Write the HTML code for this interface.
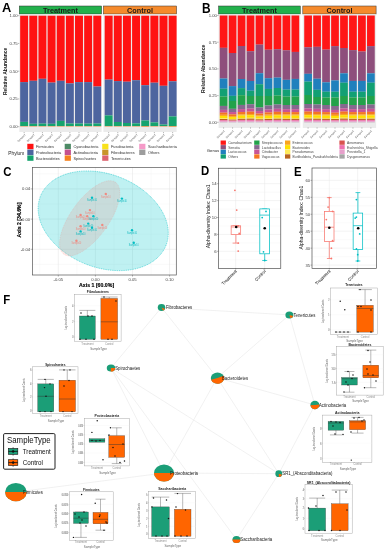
<!DOCTYPE html>
<html><head><meta charset="utf-8"><style>
html,body{margin:0;padding:0;background:#fff;width:387px;height:550px;overflow:hidden}
svg{display:block;font-family:"Liberation Sans",sans-serif;will-change:transform}
</style></head><body>
<svg width="387" height="550" viewBox="0 0 387 550"><text transform="translate(2.1 12.2) scale(0.1 0.09829)" font-size="129" fill="#000" text-anchor="start" font-weight="bold" >A</text>
<rect x="19.3" y="6" width="82.3" height="8" fill="#22B14C" stroke="#333" stroke-width="0.5"/>
<text transform="translate(60.45 12.6) scale(0.1 0.10030)" font-size="73" fill="#1a1a1a" text-anchor="middle" font-weight="bold" >Treatment</text>
<rect x="103.4" y="6" width="73.2" height="8" fill="#F58A2C" stroke="#333" stroke-width="0.5"/>
<text transform="translate(140 12.6) scale(0.1 0.10030)" font-size="73" fill="#1a1a1a" text-anchor="middle" font-weight="bold" >Control</text>
<rect x="19.3" y="14.3" width="82.3" height="117.7" fill="#EBEBEB" />
<rect x="103.4" y="14.3" width="73.2" height="117.7" fill="#EBEBEB" />
<rect x="20.17" y="15.7" width="7.95" height="66.4" fill="#FF1212" />
<rect x="20.17" y="82.1" width="7.95" height="39.8" fill="#4D659F" />
<rect x="20.17" y="121.9" width="7.95" height="4.2" fill="#15A36E" />
<rect x="20.17" y="126.1" width="7.95" height="0.6" fill="#F5A06A" />
<rect x="29.31" y="15.7" width="7.95" height="65.1" fill="#FF1212" />
<rect x="29.31" y="80.8" width="7.95" height="43" fill="#4D659F" />
<rect x="29.31" y="123.8" width="7.95" height="2.3" fill="#15A36E" />
<rect x="29.31" y="126.1" width="7.95" height="0.6" fill="#F5A06A" />
<rect x="38.45" y="15.7" width="7.95" height="63.1" fill="#FF1212" />
<rect x="38.45" y="78.8" width="7.95" height="44.8" fill="#4D659F" />
<rect x="38.45" y="123.6" width="7.95" height="2.5" fill="#15A36E" />
<rect x="38.45" y="126.1" width="7.95" height="0.6" fill="#F5A06A" />
<rect x="47.59" y="15.7" width="7.95" height="66.9" fill="#FF1212" />
<rect x="47.59" y="82.6" width="7.95" height="41.2" fill="#4D659F" />
<rect x="47.59" y="123.8" width="7.95" height="2.3" fill="#15A36E" />
<rect x="47.59" y="126.1" width="7.95" height="0.6" fill="#F5A06A" />
<rect x="56.73" y="15.7" width="7.95" height="65.1" fill="#FF1212" />
<rect x="56.73" y="80.8" width="7.95" height="40.1" fill="#4D659F" />
<rect x="56.73" y="120.9" width="7.95" height="5.2" fill="#15A36E" />
<rect x="56.73" y="126.1" width="7.95" height="0.6" fill="#F5A06A" />
<rect x="65.88" y="15.7" width="7.95" height="67.7" fill="#FF1212" />
<rect x="65.88" y="83.4" width="7.95" height="40.1" fill="#4D659F" />
<rect x="65.88" y="123.5" width="7.95" height="2.6" fill="#15A36E" />
<rect x="65.88" y="126.1" width="7.95" height="0.6" fill="#F5A06A" />
<rect x="75.02" y="15.7" width="7.95" height="66.4" fill="#FF1212" />
<rect x="75.02" y="82.1" width="7.95" height="41.4" fill="#4D659F" />
<rect x="75.02" y="123.5" width="7.95" height="2.6" fill="#15A36E" />
<rect x="75.02" y="126.1" width="7.95" height="0.6" fill="#F5A06A" />
<rect x="84.16" y="15.7" width="7.95" height="66.4" fill="#FF1212" />
<rect x="84.16" y="82.1" width="7.95" height="41.5" fill="#4D659F" />
<rect x="84.16" y="123.6" width="7.95" height="2.5" fill="#15A36E" />
<rect x="84.16" y="126.1" width="7.95" height="0.6" fill="#F5A06A" />
<rect x="93.3" y="15.7" width="7.95" height="70.8" fill="#FF1212" />
<rect x="93.3" y="86.5" width="7.95" height="37" fill="#4D659F" />
<rect x="93.3" y="123.5" width="7.95" height="2.6" fill="#15A36E" />
<rect x="93.3" y="126.1" width="7.95" height="0.6" fill="#F5A06A" />
<rect x="104.68" y="15.7" width="7.95" height="63.9" fill="#FF1212" />
<rect x="104.68" y="79.6" width="7.95" height="35.8" fill="#4D659F" />
<rect x="104.68" y="115.4" width="7.95" height="10.7" fill="#15A36E" />
<rect x="104.68" y="126.1" width="7.95" height="0.6" fill="#F5A06A" />
<rect x="113.82" y="15.7" width="7.95" height="65.4" fill="#FF1212" />
<rect x="113.82" y="81.1" width="7.95" height="40.9" fill="#4D659F" />
<rect x="113.82" y="122" width="7.95" height="4.1" fill="#15A36E" />
<rect x="113.82" y="126.1" width="7.95" height="0.6" fill="#F5A06A" />
<rect x="122.96" y="15.7" width="7.95" height="66" fill="#FF1212" />
<rect x="122.96" y="81.7" width="7.95" height="41.3" fill="#4D659F" />
<rect x="122.96" y="123" width="7.95" height="3.1" fill="#15A36E" />
<rect x="122.96" y="126.1" width="7.95" height="0.6" fill="#F5A06A" />
<rect x="132.09" y="15.7" width="7.95" height="64.5" fill="#FF1212" />
<rect x="132.09" y="80.2" width="7.95" height="43.2" fill="#4D659F" />
<rect x="132.09" y="123.4" width="7.95" height="2.7" fill="#15A36E" />
<rect x="132.09" y="126.1" width="7.95" height="0.6" fill="#F5A06A" />
<rect x="141.24" y="15.7" width="7.95" height="69.5" fill="#FF1212" />
<rect x="141.24" y="85.2" width="7.95" height="35.3" fill="#4D659F" />
<rect x="141.24" y="120.5" width="7.95" height="5.6" fill="#15A36E" />
<rect x="141.24" y="126.1" width="7.95" height="0.6" fill="#F58020" />
<rect x="150.38" y="15.7" width="7.95" height="67" fill="#FF1212" />
<rect x="150.38" y="82.7" width="7.95" height="39.7" fill="#4D659F" />
<rect x="150.38" y="122.4" width="7.95" height="3.7" fill="#15A36E" />
<rect x="150.38" y="126.1" width="7.95" height="0.6" fill="#F5A06A" />
<rect x="159.52" y="15.7" width="7.95" height="70.1" fill="#FF1212" />
<rect x="159.52" y="85.8" width="7.95" height="38.7" fill="#4D659F" />
<rect x="159.52" y="124.5" width="7.95" height="1.6" fill="#15A36E" />
<rect x="159.52" y="126.1" width="7.95" height="0.6" fill="#F5A06A" />
<rect x="168.66" y="15.7" width="7.95" height="65.6" fill="#FF1212" />
<rect x="168.66" y="81.3" width="7.95" height="35.1" fill="#4D659F" />
<rect x="168.66" y="116.4" width="7.95" height="9.7" fill="#15A36E" />
<rect x="168.66" y="126.1" width="7.95" height="0.6" fill="#F58020" />
<text transform="translate(17.6 17.1) scale(0.1 0.10030)" font-size="42" fill="#404040" text-anchor="end" >1.00</text>
<line x1="17.8" y1="15.7" x2="19.3" y2="15.7" stroke="#333" stroke-width="0.35" />
<text transform="translate(17.6 44.85) scale(0.1 0.10030)" font-size="42" fill="#404040" text-anchor="end" >0.75</text>
<line x1="17.8" y1="43.45" x2="19.3" y2="43.45" stroke="#333" stroke-width="0.35" />
<text transform="translate(17.6 72.6) scale(0.1 0.10030)" font-size="42" fill="#404040" text-anchor="end" >0.50</text>
<line x1="17.8" y1="71.2" x2="19.3" y2="71.2" stroke="#333" stroke-width="0.35" />
<text transform="translate(17.6 100.35) scale(0.1 0.10030)" font-size="42" fill="#404040" text-anchor="end" >0.25</text>
<line x1="17.8" y1="98.95" x2="19.3" y2="98.95" stroke="#333" stroke-width="0.35" />
<text transform="translate(17.6 128.1) scale(0.1 0.10030)" font-size="42" fill="#404040" text-anchor="end" >0.00</text>
<line x1="17.8" y1="126.7" x2="19.3" y2="126.7" stroke="#333" stroke-width="0.35" />
<text transform="translate(6.5 71.35) rotate(-90) scale(0.1 0.10030)" font-size="49" fill="#111" text-anchor="middle" font-weight="bold"  textLength="475" lengthAdjust="spacingAndGlyphs">Relative Abundance</text>
<line x1="24.15" y1="132" x2="24.15" y2="133.2" stroke="#333" stroke-width="0.35" />
<text transform="translate(25.75 135) rotate(-45) scale(0.1 0.10030)" font-size="26" fill="#555" text-anchor="end" >Sample1</text>
<line x1="33.29" y1="132" x2="33.29" y2="133.2" stroke="#333" stroke-width="0.35" />
<text transform="translate(34.89 135) rotate(-45) scale(0.1 0.10030)" font-size="26" fill="#555" text-anchor="end" >Sample1</text>
<line x1="42.43" y1="132" x2="42.43" y2="133.2" stroke="#333" stroke-width="0.35" />
<text transform="translate(44.03 135) rotate(-45) scale(0.1 0.10030)" font-size="26" fill="#555" text-anchor="end" >Sample1</text>
<line x1="51.57" y1="132" x2="51.57" y2="133.2" stroke="#333" stroke-width="0.35" />
<text transform="translate(53.17 135) rotate(-45) scale(0.1 0.10030)" font-size="26" fill="#555" text-anchor="end" >Sample1</text>
<line x1="60.71" y1="132" x2="60.71" y2="133.2" stroke="#333" stroke-width="0.35" />
<text transform="translate(62.31 135) rotate(-45) scale(0.1 0.10030)" font-size="26" fill="#555" text-anchor="end" >Sample1</text>
<line x1="69.85" y1="132" x2="69.85" y2="133.2" stroke="#333" stroke-width="0.35" />
<text transform="translate(71.45 135) rotate(-45) scale(0.1 0.10030)" font-size="26" fill="#555" text-anchor="end" >Sample1</text>
<line x1="78.99" y1="132" x2="78.99" y2="133.2" stroke="#333" stroke-width="0.35" />
<text transform="translate(80.59 135) rotate(-45) scale(0.1 0.10030)" font-size="26" fill="#555" text-anchor="end" >Sample1</text>
<line x1="88.13" y1="132" x2="88.13" y2="133.2" stroke="#333" stroke-width="0.35" />
<text transform="translate(89.73 135) rotate(-45) scale(0.1 0.10030)" font-size="26" fill="#555" text-anchor="end" >Sample1</text>
<line x1="97.27" y1="132" x2="97.27" y2="133.2" stroke="#333" stroke-width="0.35" />
<text transform="translate(98.87 135) rotate(-45) scale(0.1 0.10030)" font-size="26" fill="#555" text-anchor="end" >Sample1</text>
<line x1="108.65" y1="132" x2="108.65" y2="133.2" stroke="#333" stroke-width="0.35" />
<text transform="translate(110.25 135) rotate(-45) scale(0.1 0.10030)" font-size="26" fill="#555" text-anchor="end" >Sample1</text>
<line x1="117.79" y1="132" x2="117.79" y2="133.2" stroke="#333" stroke-width="0.35" />
<text transform="translate(119.39 135) rotate(-45) scale(0.1 0.10030)" font-size="26" fill="#555" text-anchor="end" >Sample1</text>
<line x1="126.93" y1="132" x2="126.93" y2="133.2" stroke="#333" stroke-width="0.35" />
<text transform="translate(128.53 135) rotate(-45) scale(0.1 0.10030)" font-size="26" fill="#555" text-anchor="end" >Sample1</text>
<line x1="136.07" y1="132" x2="136.07" y2="133.2" stroke="#333" stroke-width="0.35" />
<text transform="translate(137.67 135) rotate(-45) scale(0.1 0.10030)" font-size="26" fill="#555" text-anchor="end" >Sample1</text>
<line x1="145.21" y1="132" x2="145.21" y2="133.2" stroke="#333" stroke-width="0.35" />
<text transform="translate(146.81 135) rotate(-45) scale(0.1 0.10030)" font-size="26" fill="#555" text-anchor="end" >Sample1</text>
<line x1="154.35" y1="132" x2="154.35" y2="133.2" stroke="#333" stroke-width="0.35" />
<text transform="translate(155.95 135) rotate(-45) scale(0.1 0.10030)" font-size="26" fill="#555" text-anchor="end" >Sample1</text>
<line x1="163.49" y1="132" x2="163.49" y2="133.2" stroke="#333" stroke-width="0.35" />
<text transform="translate(165.09 135) rotate(-45) scale(0.1 0.10030)" font-size="26" fill="#555" text-anchor="end" >Sample1</text>
<line x1="172.63" y1="132" x2="172.63" y2="133.2" stroke="#333" stroke-width="0.35" />
<text transform="translate(174.23 135) rotate(-45) scale(0.1 0.10030)" font-size="26" fill="#555" text-anchor="end" >Sample1</text>
<text transform="translate(8.3 154.8) scale(0.1 0.10030)" font-size="48" fill="#222" text-anchor="start" >Phylum</text>
<rect x="27.3" y="143.8" width="6.2" height="5.4" fill="#FF1212" />
<text transform="translate(36 148.1) scale(0.1 0.10030)" font-size="39" fill="#333" text-anchor="start" >Firmicutes</text>
<rect x="27.3" y="149.6" width="6.2" height="5.4" fill="#4D659F" />
<text transform="translate(36 153.9) scale(0.1 0.10030)" font-size="39" fill="#333" text-anchor="start" >Proteobacteria</text>
<rect x="27.3" y="155.4" width="6.2" height="5.4" fill="#15A36E" />
<text transform="translate(36 159.7) scale(0.1 0.10030)" font-size="39" fill="#333" text-anchor="start" >Bacteroidetes</text>
<rect x="64.7" y="143.8" width="6.2" height="5.4" fill="#4E8B66" />
<text transform="translate(73.4 148.1) scale(0.1 0.10030)" font-size="39" fill="#333" text-anchor="start" >Cyanobacteria</text>
<rect x="64.7" y="149.6" width="6.2" height="5.4" fill="#C4508E" />
<text transform="translate(73.4 153.9) scale(0.1 0.10030)" font-size="39" fill="#333" text-anchor="start" >Actinobacteria</text>
<rect x="64.7" y="155.4" width="6.2" height="5.4" fill="#F5821F" />
<text transform="translate(73.4 159.7) scale(0.1 0.10030)" font-size="39" fill="#333" text-anchor="start" >Spirochaetes</text>
<rect x="102.2" y="143.8" width="6.2" height="5.4" fill="#F8E21B" />
<text transform="translate(110.9 148.1) scale(0.1 0.10030)" font-size="39" fill="#333" text-anchor="start" >Fusobacteria</text>
<rect x="102.2" y="149.6" width="6.2" height="5.4" fill="#C8952A" />
<text transform="translate(110.9 153.9) scale(0.1 0.10030)" font-size="39" fill="#333" text-anchor="start" >Fibrobacteres</text>
<rect x="102.2" y="155.4" width="6.2" height="5.4" fill="#DC6470" />
<text transform="translate(110.9 159.7) scale(0.1 0.10030)" font-size="39" fill="#333" text-anchor="start" >Tenericutes</text>
<rect x="139.2" y="143.8" width="6.2" height="5.4" fill="#F59AC8" />
<text transform="translate(147.9 148.1) scale(0.1 0.10030)" font-size="39" fill="#333" text-anchor="start" >Saccharibacteria</text>
<rect x="139.2" y="149.6" width="6.2" height="5.4" fill="#9D9D9D" />
<text transform="translate(147.9 153.9) scale(0.1 0.10030)" font-size="39" fill="#333" text-anchor="start" >Others</text>
<text transform="translate(202 12.7) scale(0.1 0.11735)" font-size="119" fill="#000" text-anchor="start" font-weight="bold" >B</text>
<rect x="218.6" y="6" width="81.7" height="8" fill="#22B14C" stroke="#333" stroke-width="0.5"/>
<text transform="translate(259.45 12.6) scale(0.1 0.10030)" font-size="73" fill="#1a1a1a" text-anchor="middle" font-weight="bold" >Treatment</text>
<rect x="302.8" y="6" width="73.3" height="8" fill="#F58A2C" stroke="#333" stroke-width="0.5"/>
<text transform="translate(339.45 12.6) scale(0.1 0.10030)" font-size="73" fill="#1a1a1a" text-anchor="middle" font-weight="bold" >Control</text>
<rect x="218.6" y="14.3" width="81.7" height="113.7" fill="#EBEBEB" />
<rect x="302.8" y="14.3" width="73.3" height="113.7" fill="#EBEBEB" />
<rect x="219.74" y="15.5" width="7.72" height="32.35" fill="#FF1616" />
<rect x="219.74" y="47.8" width="7.72" height="30.75" fill="#8E4F7C" />
<rect x="219.74" y="78.5" width="7.72" height="10.25" fill="#2080BD" />
<rect x="219.74" y="88.7" width="7.72" height="7.85" fill="#12A074" />
<rect x="219.74" y="96.5" width="7.72" height="9.45" fill="#22A24A" />
<rect x="219.74" y="105.9" width="7.72" height="3.99" fill="#86698F" />
<rect x="219.74" y="109.84" width="7.72" height="2.84" fill="#C85495" />
<rect x="219.74" y="112.62" width="7.72" height="2.18" fill="#F57522" />
<rect x="219.74" y="114.76" width="7.72" height="1.2" fill="#F9A51E" />
<rect x="219.74" y="115.9" width="7.72" height="2.35" fill="#FFE000" />
<rect x="219.74" y="118.2" width="7.72" height="0.87" fill="#FFEB5A" />
<rect x="219.74" y="119.02" width="7.72" height="1.03" fill="#B8641E" />
<rect x="219.74" y="120" width="7.72" height="0.38" fill="#D9534F" />
<rect x="219.74" y="120.33" width="7.72" height="1.03" fill="#EE70AE" />
<rect x="219.74" y="121.32" width="7.72" height="0.87" fill="#E6A0CB" />
<rect x="219.74" y="122.14" width="7.72" height="0.21" fill="#A5A5A5" />
<rect x="228.71" y="15.5" width="7.72" height="37.55" fill="#FF1616" />
<rect x="228.71" y="53" width="7.72" height="33.15" fill="#8E4F7C" />
<rect x="228.71" y="86.1" width="7.72" height="9.75" fill="#2080BD" />
<rect x="228.71" y="95.8" width="7.72" height="5.25" fill="#12A074" />
<rect x="228.71" y="101" width="7.72" height="7.85" fill="#22A24A" />
<rect x="228.71" y="108.8" width="7.72" height="3.29" fill="#86698F" />
<rect x="228.71" y="112.04" width="7.72" height="2.34" fill="#C85495" />
<rect x="228.71" y="114.33" width="7.72" height="1.8" fill="#F57522" />
<rect x="228.71" y="116.09" width="7.72" height="0.99" fill="#F9A51E" />
<rect x="228.71" y="117.03" width="7.72" height="1.94" fill="#FFE000" />
<rect x="228.71" y="118.92" width="7.72" height="0.72" fill="#FFEB5A" />
<rect x="228.71" y="119.6" width="7.72" height="0.86" fill="#B8641E" />
<rect x="228.71" y="120.41" width="7.72" height="0.32" fill="#D9534F" />
<rect x="228.71" y="120.68" width="7.72" height="0.86" fill="#EE70AE" />
<rect x="228.71" y="121.49" width="7.72" height="0.72" fill="#E6A0CB" />
<rect x="228.71" y="122.16" width="7.72" height="0.19" fill="#A5A5A5" />
<rect x="237.68" y="15.5" width="7.72" height="30.55" fill="#FF1616" />
<rect x="237.68" y="46" width="7.72" height="33.05" fill="#8E4F7C" />
<rect x="237.68" y="79" width="7.72" height="9.15" fill="#2080BD" />
<rect x="237.68" y="88.1" width="7.72" height="7.15" fill="#12A074" />
<rect x="237.68" y="95.2" width="7.72" height="9.75" fill="#22A24A" />
<rect x="237.68" y="104.9" width="7.72" height="4.23" fill="#86698F" />
<rect x="237.68" y="109.08" width="7.72" height="3.01" fill="#C85495" />
<rect x="237.68" y="112.03" width="7.72" height="2.31" fill="#F57522" />
<rect x="237.68" y="114.3" width="7.72" height="1.27" fill="#F9A51E" />
<rect x="237.68" y="115.51" width="7.72" height="2.49" fill="#FFE000" />
<rect x="237.68" y="117.95" width="7.72" height="0.92" fill="#FFEB5A" />
<rect x="237.68" y="118.82" width="7.72" height="1.09" fill="#B8641E" />
<rect x="237.68" y="119.86" width="7.72" height="0.4" fill="#D9534F" />
<rect x="237.68" y="120.21" width="7.72" height="1.09" fill="#EE70AE" />
<rect x="237.68" y="121.26" width="7.72" height="0.92" fill="#E6A0CB" />
<rect x="237.68" y="122.13" width="7.72" height="0.22" fill="#A5A5A5" />
<rect x="246.65" y="15.5" width="7.72" height="35.75" fill="#FF1616" />
<rect x="246.65" y="51.2" width="7.72" height="29.85" fill="#8E4F7C" />
<rect x="246.65" y="81" width="7.72" height="9.75" fill="#2080BD" />
<rect x="246.65" y="90.7" width="7.72" height="5.35" fill="#12A074" />
<rect x="246.65" y="96" width="7.72" height="8.25" fill="#22A24A" />
<rect x="246.65" y="104.2" width="7.72" height="4.39" fill="#86698F" />
<rect x="246.65" y="108.54" width="7.72" height="3.13" fill="#C85495" />
<rect x="246.65" y="111.62" width="7.72" height="2.4" fill="#F57522" />
<rect x="246.65" y="113.97" width="7.72" height="1.32" fill="#F9A51E" />
<rect x="246.65" y="115.24" width="7.72" height="2.58" fill="#FFE000" />
<rect x="246.65" y="117.77" width="7.72" height="0.95" fill="#FFEB5A" />
<rect x="246.65" y="118.68" width="7.72" height="1.14" fill="#B8641E" />
<rect x="246.65" y="119.77" width="7.72" height="0.41" fill="#D9534F" />
<rect x="246.65" y="120.13" width="7.72" height="1.14" fill="#EE70AE" />
<rect x="246.65" y="121.21" width="7.72" height="0.95" fill="#E6A0CB" />
<rect x="246.65" y="122.12" width="7.72" height="0.23" fill="#A5A5A5" />
<rect x="255.62" y="15.5" width="7.72" height="29.15" fill="#FF1616" />
<rect x="255.62" y="44.6" width="7.72" height="28.65" fill="#8E4F7C" />
<rect x="255.62" y="73.2" width="7.72" height="11.05" fill="#2080BD" />
<rect x="255.62" y="84.2" width="7.72" height="11.85" fill="#12A074" />
<rect x="255.62" y="96" width="7.72" height="11.55" fill="#22A24A" />
<rect x="255.62" y="107.5" width="7.72" height="3.6" fill="#86698F" />
<rect x="255.62" y="111.05" width="7.72" height="2.57" fill="#C85495" />
<rect x="255.62" y="113.57" width="7.72" height="1.97" fill="#F57522" />
<rect x="255.62" y="115.49" width="7.72" height="1.09" fill="#F9A51E" />
<rect x="255.62" y="116.53" width="7.72" height="2.12" fill="#FFE000" />
<rect x="255.62" y="118.6" width="7.72" height="0.79" fill="#FFEB5A" />
<rect x="255.62" y="119.34" width="7.72" height="0.94" fill="#B8641E" />
<rect x="255.62" y="120.23" width="7.72" height="0.35" fill="#D9534F" />
<rect x="255.62" y="120.52" width="7.72" height="0.94" fill="#EE70AE" />
<rect x="255.62" y="121.41" width="7.72" height="0.79" fill="#E6A0CB" />
<rect x="255.62" y="122.15" width="7.72" height="0.2" fill="#A5A5A5" />
<rect x="264.59" y="15.5" width="7.72" height="34.25" fill="#FF1616" />
<rect x="264.59" y="49.7" width="7.72" height="28.55" fill="#8E4F7C" />
<rect x="264.59" y="78.2" width="7.72" height="10.75" fill="#2080BD" />
<rect x="264.59" y="88.9" width="7.72" height="7.15" fill="#12A074" />
<rect x="264.59" y="96" width="7.72" height="9.55" fill="#22A24A" />
<rect x="264.59" y="105.5" width="7.72" height="4.08" fill="#86698F" />
<rect x="264.59" y="109.53" width="7.72" height="2.91" fill="#C85495" />
<rect x="264.59" y="112.39" width="7.72" height="2.23" fill="#F57522" />
<rect x="264.59" y="114.57" width="7.72" height="1.23" fill="#F9A51E" />
<rect x="264.59" y="115.75" width="7.72" height="2.4" fill="#FFE000" />
<rect x="264.59" y="118.1" width="7.72" height="0.89" fill="#FFEB5A" />
<rect x="264.59" y="118.94" width="7.72" height="1.06" fill="#B8641E" />
<rect x="264.59" y="119.95" width="7.72" height="0.39" fill="#D9534F" />
<rect x="264.59" y="120.28" width="7.72" height="1.06" fill="#EE70AE" />
<rect x="264.59" y="121.29" width="7.72" height="0.89" fill="#E6A0CB" />
<rect x="264.59" y="122.13" width="7.72" height="0.22" fill="#A5A5A5" />
<rect x="273.56" y="15.5" width="7.72" height="33.75" fill="#FF1616" />
<rect x="273.56" y="49.2" width="7.72" height="28.45" fill="#8E4F7C" />
<rect x="273.56" y="77.6" width="7.72" height="10.45" fill="#2080BD" />
<rect x="273.56" y="88" width="7.72" height="7.55" fill="#12A074" />
<rect x="273.56" y="95.5" width="7.72" height="9.05" fill="#22A24A" />
<rect x="273.56" y="104.5" width="7.72" height="4.32" fill="#86698F" />
<rect x="273.56" y="108.77" width="7.72" height="3.08" fill="#C85495" />
<rect x="273.56" y="111.8" width="7.72" height="2.36" fill="#F57522" />
<rect x="273.56" y="114.11" width="7.72" height="1.3" fill="#F9A51E" />
<rect x="273.56" y="115.36" width="7.72" height="2.54" fill="#FFE000" />
<rect x="273.56" y="117.85" width="7.72" height="0.94" fill="#FFEB5A" />
<rect x="273.56" y="118.74" width="7.72" height="1.12" fill="#B8641E" />
<rect x="273.56" y="119.81" width="7.72" height="0.41" fill="#D9534F" />
<rect x="273.56" y="120.16" width="7.72" height="1.12" fill="#EE70AE" />
<rect x="273.56" y="121.23" width="7.72" height="0.94" fill="#E6A0CB" />
<rect x="273.56" y="122.12" width="7.72" height="0.23" fill="#A5A5A5" />
<rect x="282.53" y="15.5" width="7.72" height="34.85" fill="#FF1616" />
<rect x="282.53" y="50.3" width="7.72" height="29.55" fill="#8E4F7C" />
<rect x="282.53" y="79.8" width="7.72" height="9.85" fill="#2080BD" />
<rect x="282.53" y="89.6" width="7.72" height="6.95" fill="#12A074" />
<rect x="282.53" y="96.5" width="7.72" height="8.55" fill="#22A24A" />
<rect x="282.53" y="105" width="7.72" height="4.2" fill="#86698F" />
<rect x="282.53" y="109.15" width="7.72" height="2.99" fill="#C85495" />
<rect x="282.53" y="112.09" width="7.72" height="2.3" fill="#F57522" />
<rect x="282.53" y="114.34" width="7.72" height="1.26" fill="#F9A51E" />
<rect x="282.53" y="115.55" width="7.72" height="2.47" fill="#FFE000" />
<rect x="282.53" y="117.97" width="7.72" height="0.91" fill="#FFEB5A" />
<rect x="282.53" y="118.84" width="7.72" height="1.09" fill="#B8641E" />
<rect x="282.53" y="119.88" width="7.72" height="0.4" fill="#D9534F" />
<rect x="282.53" y="120.22" width="7.72" height="1.09" fill="#EE70AE" />
<rect x="282.53" y="121.26" width="7.72" height="0.91" fill="#E6A0CB" />
<rect x="282.53" y="122.13" width="7.72" height="0.22" fill="#A5A5A5" />
<rect x="291.5" y="15.5" width="7.72" height="36.45" fill="#FF1616" />
<rect x="291.5" y="51.9" width="7.72" height="27.05" fill="#8E4F7C" />
<rect x="291.5" y="78.9" width="7.72" height="10.75" fill="#2080BD" />
<rect x="291.5" y="89.6" width="7.72" height="6.95" fill="#12A074" />
<rect x="291.5" y="96.5" width="7.72" height="8.55" fill="#22A24A" />
<rect x="291.5" y="105" width="7.72" height="4.2" fill="#86698F" />
<rect x="291.5" y="109.15" width="7.72" height="2.99" fill="#C85495" />
<rect x="291.5" y="112.09" width="7.72" height="2.3" fill="#F57522" />
<rect x="291.5" y="114.34" width="7.72" height="1.26" fill="#F9A51E" />
<rect x="291.5" y="115.55" width="7.72" height="2.47" fill="#FFE000" />
<rect x="291.5" y="117.97" width="7.72" height="0.91" fill="#FFEB5A" />
<rect x="291.5" y="118.84" width="7.72" height="1.09" fill="#B8641E" />
<rect x="291.5" y="119.88" width="7.72" height="0.4" fill="#D9534F" />
<rect x="291.5" y="120.22" width="7.72" height="1.09" fill="#EE70AE" />
<rect x="291.5" y="121.26" width="7.72" height="0.91" fill="#E6A0CB" />
<rect x="291.5" y="122.13" width="7.72" height="0.22" fill="#A5A5A5" />
<rect x="304.24" y="15.5" width="7.72" height="31.85" fill="#FF1616" />
<rect x="304.24" y="47.3" width="7.72" height="26.55" fill="#8E4F7C" />
<rect x="304.24" y="73.8" width="7.72" height="7.85" fill="#2080BD" />
<rect x="304.24" y="81.6" width="7.72" height="13.45" fill="#12A074" />
<rect x="304.24" y="95" width="7.72" height="9.05" fill="#22A24A" />
<rect x="304.24" y="104" width="7.72" height="4.44" fill="#86698F" />
<rect x="304.24" y="108.39" width="7.72" height="3.16" fill="#C85495" />
<rect x="304.24" y="111.5" width="7.72" height="2.43" fill="#F57522" />
<rect x="304.24" y="113.88" width="7.72" height="1.33" fill="#F9A51E" />
<rect x="304.24" y="115.16" width="7.72" height="2.61" fill="#FFE000" />
<rect x="304.24" y="117.73" width="7.72" height="0.97" fill="#FFEB5A" />
<rect x="304.24" y="118.64" width="7.72" height="1.15" fill="#B8641E" />
<rect x="304.24" y="119.74" width="7.72" height="0.42" fill="#D9534F" />
<rect x="304.24" y="120.1" width="7.72" height="1.15" fill="#EE70AE" />
<rect x="304.24" y="121.2" width="7.72" height="0.97" fill="#E6A0CB" />
<rect x="304.24" y="122.12" width="7.72" height="0.23" fill="#A5A5A5" />
<rect x="313.21" y="15.5" width="7.72" height="31.35" fill="#FF1616" />
<rect x="313.21" y="46.8" width="7.72" height="31.95" fill="#8E4F7C" />
<rect x="313.21" y="78.7" width="7.72" height="11.15" fill="#2080BD" />
<rect x="313.21" y="89.8" width="7.72" height="7.25" fill="#12A074" />
<rect x="313.21" y="97" width="7.72" height="7.55" fill="#22A24A" />
<rect x="313.21" y="104.5" width="7.72" height="4.32" fill="#86698F" />
<rect x="313.21" y="108.77" width="7.72" height="3.08" fill="#C85495" />
<rect x="313.21" y="111.8" width="7.72" height="2.36" fill="#F57522" />
<rect x="313.21" y="114.11" width="7.72" height="1.3" fill="#F9A51E" />
<rect x="313.21" y="115.36" width="7.72" height="2.54" fill="#FFE000" />
<rect x="313.21" y="117.85" width="7.72" height="0.94" fill="#FFEB5A" />
<rect x="313.21" y="118.74" width="7.72" height="1.12" fill="#B8641E" />
<rect x="313.21" y="119.81" width="7.72" height="0.41" fill="#D9534F" />
<rect x="313.21" y="120.16" width="7.72" height="1.12" fill="#EE70AE" />
<rect x="313.21" y="121.23" width="7.72" height="0.94" fill="#E6A0CB" />
<rect x="313.21" y="122.12" width="7.72" height="0.23" fill="#A5A5A5" />
<rect x="322.18" y="15.5" width="7.72" height="34.15" fill="#FF1616" />
<rect x="322.18" y="49.6" width="7.72" height="32.75" fill="#8E4F7C" />
<rect x="322.18" y="82.3" width="7.72" height="9.45" fill="#2080BD" />
<rect x="322.18" y="91.7" width="7.72" height="5.85" fill="#12A074" />
<rect x="322.18" y="97.5" width="7.72" height="7.55" fill="#22A24A" />
<rect x="322.18" y="105" width="7.72" height="4.2" fill="#86698F" />
<rect x="322.18" y="109.15" width="7.72" height="2.99" fill="#C85495" />
<rect x="322.18" y="112.09" width="7.72" height="2.3" fill="#F57522" />
<rect x="322.18" y="114.34" width="7.72" height="1.26" fill="#F9A51E" />
<rect x="322.18" y="115.55" width="7.72" height="2.47" fill="#FFE000" />
<rect x="322.18" y="117.97" width="7.72" height="0.91" fill="#FFEB5A" />
<rect x="322.18" y="118.84" width="7.72" height="1.09" fill="#B8641E" />
<rect x="322.18" y="119.88" width="7.72" height="0.4" fill="#D9534F" />
<rect x="322.18" y="120.22" width="7.72" height="1.09" fill="#EE70AE" />
<rect x="322.18" y="121.26" width="7.72" height="0.91" fill="#E6A0CB" />
<rect x="322.18" y="122.13" width="7.72" height="0.22" fill="#A5A5A5" />
<rect x="331.15" y="15.5" width="7.72" height="30.65" fill="#FF1616" />
<rect x="331.15" y="46.1" width="7.72" height="34.35" fill="#8E4F7C" />
<rect x="331.15" y="80.4" width="7.72" height="11.35" fill="#2080BD" />
<rect x="331.15" y="91.7" width="7.72" height="5.85" fill="#12A074" />
<rect x="331.15" y="97.5" width="7.72" height="8.55" fill="#22A24A" />
<rect x="331.15" y="106" width="7.72" height="3.96" fill="#86698F" />
<rect x="331.15" y="109.91" width="7.72" height="2.82" fill="#C85495" />
<rect x="331.15" y="112.68" width="7.72" height="2.17" fill="#F57522" />
<rect x="331.15" y="114.8" width="7.72" height="1.19" fill="#F9A51E" />
<rect x="331.15" y="115.94" width="7.72" height="2.33" fill="#FFE000" />
<rect x="331.15" y="118.23" width="7.72" height="0.86" fill="#FFEB5A" />
<rect x="331.15" y="119.04" width="7.72" height="1.03" fill="#B8641E" />
<rect x="331.15" y="120.02" width="7.72" height="0.38" fill="#D9534F" />
<rect x="331.15" y="120.34" width="7.72" height="1.03" fill="#EE70AE" />
<rect x="331.15" y="121.32" width="7.72" height="0.86" fill="#E6A0CB" />
<rect x="331.15" y="122.14" width="7.72" height="0.21" fill="#A5A5A5" />
<rect x="340.12" y="15.5" width="7.72" height="32.55" fill="#FF1616" />
<rect x="340.12" y="48" width="7.72" height="25.35" fill="#8E4F7C" />
<rect x="340.12" y="73.3" width="7.72" height="9.45" fill="#2080BD" />
<rect x="340.12" y="82.7" width="7.72" height="13.35" fill="#12A074" />
<rect x="340.12" y="96" width="7.72" height="8.05" fill="#22A24A" />
<rect x="340.12" y="104" width="7.72" height="4.44" fill="#86698F" />
<rect x="340.12" y="108.39" width="7.72" height="3.16" fill="#C85495" />
<rect x="340.12" y="111.5" width="7.72" height="2.43" fill="#F57522" />
<rect x="340.12" y="113.88" width="7.72" height="1.33" fill="#F9A51E" />
<rect x="340.12" y="115.16" width="7.72" height="2.61" fill="#FFE000" />
<rect x="340.12" y="117.73" width="7.72" height="0.97" fill="#FFEB5A" />
<rect x="340.12" y="118.64" width="7.72" height="1.15" fill="#B8641E" />
<rect x="340.12" y="119.74" width="7.72" height="0.42" fill="#D9534F" />
<rect x="340.12" y="120.1" width="7.72" height="1.15" fill="#EE70AE" />
<rect x="340.12" y="121.2" width="7.72" height="0.97" fill="#E6A0CB" />
<rect x="340.12" y="122.12" width="7.72" height="0.23" fill="#A5A5A5" />
<rect x="349.09" y="15.5" width="7.72" height="34.65" fill="#FF1616" />
<rect x="349.09" y="50.1" width="7.72" height="30.85" fill="#8E4F7C" />
<rect x="349.09" y="80.9" width="7.72" height="10.85" fill="#2080BD" />
<rect x="349.09" y="91.7" width="7.72" height="5.85" fill="#12A074" />
<rect x="349.09" y="97.5" width="7.72" height="7.55" fill="#22A24A" />
<rect x="349.09" y="105" width="7.72" height="4.2" fill="#86698F" />
<rect x="349.09" y="109.15" width="7.72" height="2.99" fill="#C85495" />
<rect x="349.09" y="112.09" width="7.72" height="2.3" fill="#F57522" />
<rect x="349.09" y="114.34" width="7.72" height="1.26" fill="#F9A51E" />
<rect x="349.09" y="115.55" width="7.72" height="2.47" fill="#FFE000" />
<rect x="349.09" y="117.97" width="7.72" height="0.91" fill="#FFEB5A" />
<rect x="349.09" y="118.84" width="7.72" height="1.09" fill="#B8641E" />
<rect x="349.09" y="119.88" width="7.72" height="0.4" fill="#D9534F" />
<rect x="349.09" y="120.22" width="7.72" height="1.09" fill="#EE70AE" />
<rect x="349.09" y="121.26" width="7.72" height="0.91" fill="#E6A0CB" />
<rect x="349.09" y="122.13" width="7.72" height="0.22" fill="#A5A5A5" />
<rect x="358.06" y="15.5" width="7.72" height="36.05" fill="#FF1616" />
<rect x="358.06" y="51.5" width="7.72" height="29.45" fill="#8E4F7C" />
<rect x="358.06" y="80.9" width="7.72" height="10.85" fill="#2080BD" />
<rect x="358.06" y="91.7" width="7.72" height="5.85" fill="#12A074" />
<rect x="358.06" y="97.5" width="7.72" height="7.55" fill="#22A24A" />
<rect x="358.06" y="105" width="7.72" height="4.2" fill="#86698F" />
<rect x="358.06" y="109.15" width="7.72" height="2.99" fill="#C85495" />
<rect x="358.06" y="112.09" width="7.72" height="2.3" fill="#F57522" />
<rect x="358.06" y="114.34" width="7.72" height="1.26" fill="#F9A51E" />
<rect x="358.06" y="115.55" width="7.72" height="2.47" fill="#FFE000" />
<rect x="358.06" y="117.97" width="7.72" height="0.91" fill="#FFEB5A" />
<rect x="358.06" y="118.84" width="7.72" height="1.09" fill="#B8641E" />
<rect x="358.06" y="119.88" width="7.72" height="0.4" fill="#D9534F" />
<rect x="358.06" y="120.22" width="7.72" height="1.09" fill="#EE70AE" />
<rect x="358.06" y="121.26" width="7.72" height="0.91" fill="#E6A0CB" />
<rect x="358.06" y="122.13" width="7.72" height="0.22" fill="#A5A5A5" />
<rect x="367.03" y="15.5" width="7.72" height="30.65" fill="#FF1616" />
<rect x="367.03" y="46.1" width="7.72" height="27.25" fill="#8E4F7C" />
<rect x="367.03" y="73.3" width="7.72" height="9.45" fill="#2080BD" />
<rect x="367.03" y="82.7" width="7.72" height="13.35" fill="#12A074" />
<rect x="367.03" y="96" width="7.72" height="8.55" fill="#22A24A" />
<rect x="367.03" y="104.5" width="7.72" height="4.32" fill="#86698F" />
<rect x="367.03" y="108.77" width="7.72" height="3.08" fill="#C85495" />
<rect x="367.03" y="111.8" width="7.72" height="2.36" fill="#F57522" />
<rect x="367.03" y="114.11" width="7.72" height="1.3" fill="#F9A51E" />
<rect x="367.03" y="115.36" width="7.72" height="2.54" fill="#FFE000" />
<rect x="367.03" y="117.85" width="7.72" height="0.94" fill="#FFEB5A" />
<rect x="367.03" y="118.74" width="7.72" height="1.12" fill="#B8641E" />
<rect x="367.03" y="119.81" width="7.72" height="0.41" fill="#D9534F" />
<rect x="367.03" y="120.16" width="7.72" height="1.12" fill="#EE70AE" />
<rect x="367.03" y="121.23" width="7.72" height="0.94" fill="#E6A0CB" />
<rect x="367.03" y="122.12" width="7.72" height="0.23" fill="#A5A5A5" />
<text transform="translate(216.9 16.9) scale(0.1 0.10030)" font-size="42" fill="#404040" text-anchor="end" >1.00</text>
<line x1="217.1" y1="15.5" x2="218.6" y2="15.5" stroke="#333" stroke-width="0.35" />
<text transform="translate(216.9 43.6) scale(0.1 0.10030)" font-size="42" fill="#404040" text-anchor="end" >0.75</text>
<line x1="217.1" y1="42.2" x2="218.6" y2="42.2" stroke="#333" stroke-width="0.35" />
<text transform="translate(216.9 70.3) scale(0.1 0.10030)" font-size="42" fill="#404040" text-anchor="end" >0.50</text>
<line x1="217.1" y1="68.9" x2="218.6" y2="68.9" stroke="#333" stroke-width="0.35" />
<text transform="translate(216.9 97) scale(0.1 0.10030)" font-size="42" fill="#404040" text-anchor="end" >0.25</text>
<line x1="217.1" y1="95.6" x2="218.6" y2="95.6" stroke="#333" stroke-width="0.35" />
<text transform="translate(216.9 123.7) scale(0.1 0.10030)" font-size="42" fill="#404040" text-anchor="end" >0.00</text>
<line x1="217.1" y1="122.3" x2="218.6" y2="122.3" stroke="#333" stroke-width="0.35" />
<text transform="translate(205 68.85) rotate(-90) scale(0.1 0.10030)" font-size="49" fill="#111" text-anchor="middle" font-weight="bold"  textLength="483" lengthAdjust="spacingAndGlyphs">Relative Abundance</text>
<line x1="223.6" y1="127.4" x2="223.6" y2="128.6" stroke="#333" stroke-width="0.35" />
<text transform="translate(225 131.2) rotate(-45) scale(0.1 0.10030)" font-size="26" fill="#555" text-anchor="end" >Sample1</text>
<line x1="232.57" y1="127.4" x2="232.57" y2="128.6" stroke="#333" stroke-width="0.35" />
<text transform="translate(233.97 131.2) rotate(-45) scale(0.1 0.10030)" font-size="26" fill="#555" text-anchor="end" >Sample1</text>
<line x1="241.54" y1="127.4" x2="241.54" y2="128.6" stroke="#333" stroke-width="0.35" />
<text transform="translate(242.94 131.2) rotate(-45) scale(0.1 0.10030)" font-size="26" fill="#555" text-anchor="end" >Sample1</text>
<line x1="250.51" y1="127.4" x2="250.51" y2="128.6" stroke="#333" stroke-width="0.35" />
<text transform="translate(251.91 131.2) rotate(-45) scale(0.1 0.10030)" font-size="26" fill="#555" text-anchor="end" >Sample1</text>
<line x1="259.48" y1="127.4" x2="259.48" y2="128.6" stroke="#333" stroke-width="0.35" />
<text transform="translate(260.88 131.2) rotate(-45) scale(0.1 0.10030)" font-size="26" fill="#555" text-anchor="end" >Sample1</text>
<line x1="268.45" y1="127.4" x2="268.45" y2="128.6" stroke="#333" stroke-width="0.35" />
<text transform="translate(269.85 131.2) rotate(-45) scale(0.1 0.10030)" font-size="26" fill="#555" text-anchor="end" >Sample1</text>
<line x1="277.42" y1="127.4" x2="277.42" y2="128.6" stroke="#333" stroke-width="0.35" />
<text transform="translate(278.82 131.2) rotate(-45) scale(0.1 0.10030)" font-size="26" fill="#555" text-anchor="end" >Sample1</text>
<line x1="286.39" y1="127.4" x2="286.39" y2="128.6" stroke="#333" stroke-width="0.35" />
<text transform="translate(287.79 131.2) rotate(-45) scale(0.1 0.10030)" font-size="26" fill="#555" text-anchor="end" >Sample1</text>
<line x1="295.36" y1="127.4" x2="295.36" y2="128.6" stroke="#333" stroke-width="0.35" />
<text transform="translate(296.76 131.2) rotate(-45) scale(0.1 0.10030)" font-size="26" fill="#555" text-anchor="end" >Sample1</text>
<line x1="308.1" y1="127.4" x2="308.1" y2="128.6" stroke="#333" stroke-width="0.35" />
<text transform="translate(309.5 131.2) rotate(-45) scale(0.1 0.10030)" font-size="26" fill="#555" text-anchor="end" >Sample1</text>
<line x1="317.07" y1="127.4" x2="317.07" y2="128.6" stroke="#333" stroke-width="0.35" />
<text transform="translate(318.47 131.2) rotate(-45) scale(0.1 0.10030)" font-size="26" fill="#555" text-anchor="end" >Sample1</text>
<line x1="326.04" y1="127.4" x2="326.04" y2="128.6" stroke="#333" stroke-width="0.35" />
<text transform="translate(327.44 131.2) rotate(-45) scale(0.1 0.10030)" font-size="26" fill="#555" text-anchor="end" >Sample1</text>
<line x1="335.01" y1="127.4" x2="335.01" y2="128.6" stroke="#333" stroke-width="0.35" />
<text transform="translate(336.41 131.2) rotate(-45) scale(0.1 0.10030)" font-size="26" fill="#555" text-anchor="end" >Sample1</text>
<line x1="343.98" y1="127.4" x2="343.98" y2="128.6" stroke="#333" stroke-width="0.35" />
<text transform="translate(345.38 131.2) rotate(-45) scale(0.1 0.10030)" font-size="26" fill="#555" text-anchor="end" >Sample1</text>
<line x1="352.95" y1="127.4" x2="352.95" y2="128.6" stroke="#333" stroke-width="0.35" />
<text transform="translate(354.35 131.2) rotate(-45) scale(0.1 0.10030)" font-size="26" fill="#555" text-anchor="end" >Sample1</text>
<line x1="361.92" y1="127.4" x2="361.92" y2="128.6" stroke="#333" stroke-width="0.35" />
<text transform="translate(363.32 131.2) rotate(-45) scale(0.1 0.10030)" font-size="26" fill="#555" text-anchor="end" >Sample1</text>
<line x1="370.89" y1="127.4" x2="370.89" y2="128.6" stroke="#333" stroke-width="0.35" />
<text transform="translate(372.29 131.2) rotate(-45) scale(0.1 0.10030)" font-size="26" fill="#555" text-anchor="end" >Sample1</text>
<text transform="translate(206.8 151.7) scale(0.1 0.10030)" font-size="42" fill="#222" text-anchor="start" >Genus</text>
<rect x="220.6" y="140.5" width="5.3" height="4.3" fill="#FF1616" />
<text transform="translate(228.2 144) scale(0.1 0.10030)" font-size="33" fill="#444" text-anchor="start" >Carnobacterium</text>
<rect x="220.6" y="145.1" width="5.3" height="4.3" fill="#8E4F7C" />
<text transform="translate(228.2 148.6) scale(0.1 0.10030)" font-size="33" fill="#444" text-anchor="start" >Serratia</text>
<rect x="220.6" y="149.7" width="5.3" height="4.3" fill="#2080BD" />
<text transform="translate(228.2 153.2) scale(0.1 0.10030)" font-size="33" fill="#444" text-anchor="start" >Lactococcus</text>
<rect x="220.6" y="154.3" width="5.3" height="4.3" fill="#12A074" />
<text transform="translate(228.2 157.8) scale(0.1 0.10030)" font-size="33" fill="#444" text-anchor="start" >Others</text>
<rect x="254.2" y="140.5" width="5.3" height="4.3" fill="#22A24A" />
<text transform="translate(261.8 144) scale(0.1 0.10030)" font-size="33" fill="#444" text-anchor="start" >Streptococcus</text>
<rect x="254.2" y="145.1" width="5.3" height="4.3" fill="#86698F" />
<text transform="translate(261.8 148.6) scale(0.1 0.10030)" font-size="33" fill="#444" text-anchor="start" >Lactobacillus</text>
<rect x="254.2" y="149.7" width="5.3" height="4.3" fill="#C85495" />
<text transform="translate(261.8 153.2) scale(0.1 0.10030)" font-size="33" fill="#444" text-anchor="start" >Citrobacter</text>
<rect x="254.2" y="154.3" width="5.3" height="4.3" fill="#F57522" />
<text transform="translate(261.8 157.8) scale(0.1 0.10030)" font-size="33" fill="#444" text-anchor="start" >Vagococcus</text>
<rect x="285" y="140.5" width="5.3" height="4.3" fill="#F9A51E" />
<text transform="translate(292.6 144) scale(0.1 0.10030)" font-size="33" fill="#444" text-anchor="start" >Enterococcus</text>
<rect x="285" y="145.1" width="5.3" height="4.3" fill="#FFE000" />
<text transform="translate(292.6 148.6) scale(0.1 0.10030)" font-size="33" fill="#444" text-anchor="start" >Bacteroides</text>
<rect x="285" y="149.7" width="5.3" height="4.3" fill="#FFEB5A" />
<text transform="translate(292.6 153.2) scale(0.1 0.10030)" font-size="33" fill="#444" text-anchor="start" >Pseudomonas</text>
<rect x="285" y="154.3" width="5.3" height="4.3" fill="#B8641E" />
<text transform="translate(292.6 157.8) scale(0.1 0.10030)" font-size="33" fill="#444" text-anchor="start" >Burkholderia_Paraburkholderia</text>
<rect x="339.4" y="140.5" width="5.3" height="4.3" fill="#D9534F" />
<text transform="translate(347 144) scale(0.1 0.10030)" font-size="33" fill="#444" text-anchor="start" >Aeromonas</text>
<rect x="339.4" y="145.1" width="5.3" height="4.3" fill="#EE70AE" />
<text transform="translate(347 148.6) scale(0.1 0.10030)" font-size="33" fill="#444" text-anchor="start" >Escherichia_Shigella</text>
<rect x="339.4" y="149.7" width="5.3" height="4.3" fill="#E6A0CB" />
<text transform="translate(347 153.2) scale(0.1 0.10030)" font-size="33" fill="#444" text-anchor="start" >Prevotella_1</text>
<rect x="339.4" y="154.3" width="5.3" height="4.3" fill="#A5A5A5" />
<text transform="translate(347 157.8) scale(0.1 0.10030)" font-size="33" fill="#444" text-anchor="start" >Dysgonomonas</text>
<text transform="translate(3.3 175.6) scale(0.1 0.11534)" font-size="114" fill="#000" text-anchor="start" font-weight="bold" >C</text>
<rect x="32.5" y="167.4" width="143.8" height="107.6" fill="#FFFFFF" />
<line x1="39.75" y1="167.4" x2="39.75" y2="275" stroke="#F2F2F2" stroke-width="0.4" />
<line x1="76.85" y1="167.4" x2="76.85" y2="275" stroke="#F2F2F2" stroke-width="0.4" />
<line x1="113.95" y1="167.4" x2="113.95" y2="275" stroke="#F2F2F2" stroke-width="0.4" />
<line x1="151.05" y1="167.4" x2="151.05" y2="275" stroke="#F2F2F2" stroke-width="0.4" />
<line x1="32.5" y1="173.8" x2="176.3" y2="173.8" stroke="#F2F2F2" stroke-width="0.4" />
<line x1="32.5" y1="204" x2="176.3" y2="204" stroke="#F2F2F2" stroke-width="0.4" />
<line x1="32.5" y1="234.2" x2="176.3" y2="234.2" stroke="#F2F2F2" stroke-width="0.4" />
<line x1="32.5" y1="264.4" x2="176.3" y2="264.4" stroke="#F2F2F2" stroke-width="0.4" />
<line x1="58.3" y1="167.4" x2="58.3" y2="275" stroke="#E3E3E3" stroke-width="0.5" />
<line x1="95.4" y1="167.4" x2="95.4" y2="275" stroke="#E3E3E3" stroke-width="0.5" />
<line x1="132.5" y1="167.4" x2="132.5" y2="275" stroke="#E3E3E3" stroke-width="0.5" />
<line x1="169.6" y1="167.4" x2="169.6" y2="275" stroke="#E3E3E3" stroke-width="0.5" />
<line x1="32.5" y1="188.9" x2="176.3" y2="188.9" stroke="#E3E3E3" stroke-width="0.5" />
<line x1="32.5" y1="219.1" x2="176.3" y2="219.1" stroke="#E3E3E3" stroke-width="0.5" />
<line x1="32.5" y1="249.3" x2="176.3" y2="249.3" stroke="#E3E3E3" stroke-width="0.5" />
<ellipse cx="103.2" cy="220.8" rx="67.4" ry="46.6" transform="rotate(21.2 103.2 220.8)" fill="#00C8CC" fill-opacity="0.25" stroke="#00BFC4" stroke-width="0.5" stroke-dasharray="1 0.8"/>
<ellipse cx="89.7" cy="218.3" rx="44.3" ry="18.9" transform="rotate(-54.2 89.7 218.3)" fill="#F8766D" fill-opacity="0.17" stroke="#F8766D" stroke-opacity="0.5" stroke-width="0.4" stroke-dasharray="1 0.8"/>
<rect x="32.5" y="167.4" width="143.8" height="107.6" fill="none" stroke="#555" stroke-width="0.7"/>
<circle cx="105.8" cy="194" r="1.2" fill="#F08A80" />
<text transform="translate(105.8 197.5) scale(0.1 0.12036)" font-size="24" fill="#EC8A82" text-anchor="middle"  textLength="96" lengthAdjust="spacingAndGlyphs">Sample10</text>
<circle cx="89.9" cy="210.1" r="1.2" fill="#F08A80" />
<text transform="translate(89.9 213.6) scale(0.1 0.12036)" font-size="24" fill="#EC8A82" text-anchor="middle"  textLength="96" lengthAdjust="spacingAndGlyphs">Sample10</text>
<circle cx="80.6" cy="214.9" r="1.2" fill="#F08A80" />
<text transform="translate(80.6 218.4) scale(0.1 0.12036)" font-size="24" fill="#EC8A82" text-anchor="middle"  textLength="96" lengthAdjust="spacingAndGlyphs">Sample10</text>
<circle cx="87.2" cy="216.3" r="1.2" fill="#F08A80" />
<text transform="translate(87.2 219.8) scale(0.1 0.12036)" font-size="24" fill="#EC8A82" text-anchor="middle"  textLength="96" lengthAdjust="spacingAndGlyphs">Sample10</text>
<circle cx="102.3" cy="225" r="1.2" fill="#F08A80" />
<text transform="translate(102.3 228.5) scale(0.1 0.12036)" font-size="24" fill="#EC8A82" text-anchor="middle"  textLength="96" lengthAdjust="spacingAndGlyphs">Sample10</text>
<circle cx="80.6" cy="226.2" r="1.2" fill="#F08A80" />
<text transform="translate(80.6 229.7) scale(0.1 0.12036)" font-size="24" fill="#EC8A82" text-anchor="middle"  textLength="96" lengthAdjust="spacingAndGlyphs">Sample10</text>
<circle cx="76.4" cy="240.7" r="1.2" fill="#F08A80" />
<text transform="translate(76.4 244.2) scale(0.1 0.12036)" font-size="24" fill="#EC8A82" text-anchor="middle"  textLength="96" lengthAdjust="spacingAndGlyphs">Sample10</text>
<circle cx="92" cy="197.7" r="1.2" fill="#00BFC4" />
<text transform="translate(92 201.2) scale(0.1 0.12036)" font-size="24" fill="#10B8BE" text-anchor="middle"  textLength="98" lengthAdjust="spacingAndGlyphs">Sample10</text>
<circle cx="121.9" cy="198.6" r="1.2" fill="#00BFC4" />
<text transform="translate(121.9 202.1) scale(0.1 0.12036)" font-size="24" fill="#10B8BE" text-anchor="middle"  textLength="98" lengthAdjust="spacingAndGlyphs">Sample10</text>
<circle cx="93.4" cy="216.3" r="1.2" fill="#00BFC4" />
<text transform="translate(93.4 219.8) scale(0.1 0.12036)" font-size="24" fill="#10B8BE" text-anchor="middle"  textLength="98" lengthAdjust="spacingAndGlyphs">Sample10</text>
<circle cx="88.2" cy="223.6" r="1.2" fill="#00BFC4" />
<text transform="translate(88.2 227.1) scale(0.1 0.12036)" font-size="24" fill="#10B8BE" text-anchor="middle"  textLength="98" lengthAdjust="spacingAndGlyphs">Sample10</text>
<circle cx="92" cy="227.7" r="1.2" fill="#00BFC4" />
<text transform="translate(92 231.2) scale(0.1 0.12036)" font-size="24" fill="#10B8BE" text-anchor="middle"  textLength="98" lengthAdjust="spacingAndGlyphs">Sample10</text>
<circle cx="80.6" cy="231.4" r="1.2" fill="#00BFC4" />
<text transform="translate(80.6 234.9) scale(0.1 0.12036)" font-size="24" fill="#10B8BE" text-anchor="middle"  textLength="98" lengthAdjust="spacingAndGlyphs">Sample10</text>
<circle cx="132" cy="230.3" r="1.2" fill="#00BFC4" />
<text transform="translate(132 233.8) scale(0.1 0.12036)" font-size="24" fill="#10B8BE" text-anchor="middle"  textLength="98" lengthAdjust="spacingAndGlyphs">Sample10</text>
<circle cx="133.7" cy="242.8" r="1.2" fill="#00BFC4" />
<text transform="translate(133.7 246.3) scale(0.1 0.12036)" font-size="24" fill="#10B8BE" text-anchor="middle"  textLength="98" lengthAdjust="spacingAndGlyphs">Sample10</text>
<text transform="translate(30.2 190.3) scale(0.1 0.10030)" font-size="42" fill="#404040" text-anchor="end" >0.04</text>
<line x1="30.6" y1="188.9" x2="32.5" y2="188.9" stroke="#333" stroke-width="0.35" />
<text transform="translate(30.2 220.5) scale(0.1 0.10030)" font-size="42" fill="#404040" text-anchor="end" >0.00</text>
<line x1="30.6" y1="219.1" x2="32.5" y2="219.1" stroke="#333" stroke-width="0.35" />
<text transform="translate(30.2 250.7) scale(0.1 0.10030)" font-size="42" fill="#404040" text-anchor="end" >-0.04</text>
<line x1="30.6" y1="249.3" x2="32.5" y2="249.3" stroke="#333" stroke-width="0.35" />
<text transform="translate(58.3 280.8) scale(0.1 0.10030)" font-size="42" fill="#404040" text-anchor="middle" >-0.05</text>
<line x1="58.3" y1="275" x2="58.3" y2="276.6" stroke="#333" stroke-width="0.35" />
<text transform="translate(95.4 280.8) scale(0.1 0.10030)" font-size="42" fill="#404040" text-anchor="middle" >0.00</text>
<line x1="95.4" y1="275" x2="95.4" y2="276.6" stroke="#333" stroke-width="0.35" />
<text transform="translate(132.5 280.8) scale(0.1 0.10030)" font-size="42" fill="#404040" text-anchor="middle" >0.05</text>
<line x1="132.5" y1="275" x2="132.5" y2="276.6" stroke="#333" stroke-width="0.35" />
<text transform="translate(169.6 280.8) scale(0.1 0.10030)" font-size="42" fill="#404040" text-anchor="middle" >0.10</text>
<line x1="169.6" y1="275" x2="169.6" y2="276.6" stroke="#333" stroke-width="0.35" />
<text transform="translate(96.6 287.1) scale(0.1 0.10030)" font-size="52" fill="#000" text-anchor="middle" font-weight="bold"  stroke="#000" stroke-width="1.5"  textLength="350" lengthAdjust="spacingAndGlyphs">Axis 1 [60.0%]</text>
<text transform="translate(21 220) rotate(-90) scale(0.1 0.10030)" font-size="52" fill="#000" text-anchor="middle" font-weight="bold"  stroke="#000" stroke-width="1.5" >Axis 2 [34.6%]</text>
<text transform="translate(200.9 175.4) scale(0.1 0.11534)" font-size="114" fill="#000" text-anchor="start" font-weight="bold" >D</text>
<text transform="translate(294 175.5) scale(0.1 0.11534)" font-size="114" fill="#000" text-anchor="start" font-weight="bold" >E</text>
<rect x="218.3" y="168.2" width="62.5" height="100.2" fill="#FFFFFF" />
<line x1="218.3" y1="259.75" x2="280.8" y2="259.75" stroke="#F3F3F3" stroke-width="0.4" />
<line x1="218.3" y1="242.85" x2="280.8" y2="242.85" stroke="#F3F3F3" stroke-width="0.4" />
<line x1="218.3" y1="225.95" x2="280.8" y2="225.95" stroke="#F3F3F3" stroke-width="0.4" />
<line x1="218.3" y1="209.05" x2="280.8" y2="209.05" stroke="#F3F3F3" stroke-width="0.4" />
<line x1="218.3" y1="192.15" x2="280.8" y2="192.15" stroke="#F3F3F3" stroke-width="0.4" />
<line x1="218.3" y1="175.25" x2="280.8" y2="175.25" stroke="#F3F3F3" stroke-width="0.4" />
<line x1="218.3" y1="251.3" x2="280.8" y2="251.3" stroke="#E6E6E6" stroke-width="0.5" />
<line x1="218.3" y1="234.4" x2="280.8" y2="234.4" stroke="#E6E6E6" stroke-width="0.5" />
<line x1="218.3" y1="217.5" x2="280.8" y2="217.5" stroke="#E6E6E6" stroke-width="0.5" />
<line x1="218.3" y1="200.6" x2="280.8" y2="200.6" stroke="#E6E6E6" stroke-width="0.5" />
<line x1="218.3" y1="183.7" x2="280.8" y2="183.7" stroke="#E6E6E6" stroke-width="0.5" />
<line x1="235.7" y1="168.2" x2="235.7" y2="268.4" stroke="#E6E6E6" stroke-width="0.5" />
<line x1="264.7" y1="168.2" x2="264.7" y2="268.4" stroke="#E6E6E6" stroke-width="0.5" />
<rect x="218.3" y="168.2" width="62.5" height="100.2" fill="none" stroke="#333" stroke-width="0.6"/>
<text transform="translate(216.5 252.7) scale(0.1 0.10030)" font-size="42" fill="#404040" text-anchor="end" >6</text>
<line x1="216.8" y1="251.3" x2="218.3" y2="251.3" stroke="#333" stroke-width="0.35" />
<text transform="translate(216.5 235.8) scale(0.1 0.10030)" font-size="42" fill="#404040" text-anchor="end" >8</text>
<line x1="216.8" y1="234.4" x2="218.3" y2="234.4" stroke="#333" stroke-width="0.35" />
<text transform="translate(216.5 218.9) scale(0.1 0.10030)" font-size="42" fill="#404040" text-anchor="end" >10</text>
<line x1="216.8" y1="217.5" x2="218.3" y2="217.5" stroke="#333" stroke-width="0.35" />
<text transform="translate(216.5 202) scale(0.1 0.10030)" font-size="42" fill="#404040" text-anchor="end" >12</text>
<line x1="216.8" y1="200.6" x2="218.3" y2="200.6" stroke="#333" stroke-width="0.35" />
<text transform="translate(216.5 185.1) scale(0.1 0.10030)" font-size="42" fill="#404040" text-anchor="end" >14</text>
<line x1="216.8" y1="183.7" x2="218.3" y2="183.7" stroke="#333" stroke-width="0.35" />
<text transform="translate(210 216.4) rotate(-90) scale(0.1 0.10030)" font-size="50" fill="#111" text-anchor="middle" >Alpha-diversity Index: Chao1</text>
<line x1="235.9" y1="225.8" x2="235.9" y2="225.8" stroke="#F8766D" stroke-width="0.75" />
<line x1="235.9" y1="234.6" x2="235.9" y2="243.1" stroke="#F8766D" stroke-width="0.75" />
<line x1="232.6" y1="225.8" x2="239.2" y2="225.8" stroke="#F8766D" stroke-width="0.75" />
<line x1="232.6" y1="243.1" x2="239.2" y2="243.1" stroke="#F8766D" stroke-width="0.75" />
<rect x="231.15" y="225.8" width="9.5" height="8.8" fill="#FFFFFF" stroke="#F8766D" stroke-width="0.75"/>
<line x1="231.15" y1="227" x2="240.65" y2="227" stroke="#F8766D" stroke-width="0.75" />
<circle cx="234.9" cy="190.3" r="0.9" fill="#F8766D" />
<circle cx="236.7" cy="210.1" r="0.9" fill="#F8766D" />
<circle cx="238.2" cy="225.8" r="0.9" fill="#F8766D" />
<circle cx="239.2" cy="233.4" r="0.9" fill="#F8766D" />
<circle cx="238.2" cy="243.1" r="0.9" fill="#F8766D" />
<circle cx="238.2" cy="251.1" r="0.9" fill="#F8766D" />
<circle cx="236.2" cy="227" r="1.3" fill="#000" />
<line x1="264.7" y1="208.9" x2="264.7" y2="208.9" stroke="#00BFC4" stroke-width="0.75" />
<line x1="264.7" y1="253.8" x2="264.7" y2="260.5" stroke="#00BFC4" stroke-width="0.75" />
<line x1="262.2" y1="208.9" x2="267.2" y2="208.9" stroke="#00BFC4" stroke-width="0.75" />
<line x1="262.2" y1="260.5" x2="267.2" y2="260.5" stroke="#00BFC4" stroke-width="0.75" />
<rect x="259.8" y="208.9" width="9.8" height="44.9" fill="#FFFFFF" stroke="#00BFC4" stroke-width="0.75"/>
<line x1="259.8" y1="215.1" x2="269.6" y2="215.1" stroke="#00BFC4" stroke-width="0.75" />
<circle cx="266" cy="211.4" r="0.9" fill="#00BFC4" />
<circle cx="262.2" cy="217.6" r="0.9" fill="#00BFC4" />
<circle cx="263.5" cy="251.8" r="0.9" fill="#00BFC4" />
<circle cx="264.7" cy="260.5" r="0.9" fill="#00BFC4" />
<circle cx="264.7" cy="228.2" r="1.3" fill="#000" />
<text transform="translate(237.2 271.6) rotate(-45) scale(0.1 0.10030)" font-size="43" fill="#404040" text-anchor="end" stroke="#404040" stroke-width="0.9" >Treatment</text>
<text transform="translate(266.2 271.6) rotate(-45) scale(0.1 0.10030)" font-size="43" fill="#404040" text-anchor="end" stroke="#404040" stroke-width="0.9" >Control</text>
<line x1="235.7" y1="268.4" x2="235.7" y2="269.8" stroke="#333" stroke-width="0.35" />
<line x1="264.7" y1="268.4" x2="264.7" y2="269.8" stroke="#333" stroke-width="0.35" />
<rect x="312" y="168" width="64.5" height="100.3" fill="#FFFFFF" />
<line x1="312" y1="256.62" x2="376.5" y2="256.62" stroke="#F3F3F3" stroke-width="0.4" />
<line x1="312" y1="239.67" x2="376.5" y2="239.67" stroke="#F3F3F3" stroke-width="0.4" />
<line x1="312" y1="222.72" x2="376.5" y2="222.72" stroke="#F3F3F3" stroke-width="0.4" />
<line x1="312" y1="205.77" x2="376.5" y2="205.77" stroke="#F3F3F3" stroke-width="0.4" />
<line x1="312" y1="188.82" x2="376.5" y2="188.82" stroke="#F3F3F3" stroke-width="0.4" />
<line x1="312" y1="265.1" x2="376.5" y2="265.1" stroke="#E6E6E6" stroke-width="0.5" />
<line x1="312" y1="248.15" x2="376.5" y2="248.15" stroke="#E6E6E6" stroke-width="0.5" />
<line x1="312" y1="231.2" x2="376.5" y2="231.2" stroke="#E6E6E6" stroke-width="0.5" />
<line x1="312" y1="214.25" x2="376.5" y2="214.25" stroke="#E6E6E6" stroke-width="0.5" />
<line x1="312" y1="197.3" x2="376.5" y2="197.3" stroke="#E6E6E6" stroke-width="0.5" />
<line x1="312" y1="180.35" x2="376.5" y2="180.35" stroke="#E6E6E6" stroke-width="0.5" />
<line x1="329.3" y1="168" x2="329.3" y2="268.3" stroke="#E6E6E6" stroke-width="0.5" />
<line x1="357.7" y1="168" x2="357.7" y2="268.3" stroke="#E6E6E6" stroke-width="0.5" />
<rect x="312" y="168" width="64.5" height="100.3" fill="none" stroke="#333" stroke-width="0.6"/>
<text transform="translate(310.2 266.5) scale(0.1 0.10030)" font-size="42" fill="#404040" text-anchor="end" >35</text>
<line x1="310.5" y1="265.1" x2="312" y2="265.1" stroke="#333" stroke-width="0.35" />
<text transform="translate(310.2 249.55) scale(0.1 0.10030)" font-size="42" fill="#404040" text-anchor="end" >40</text>
<line x1="310.5" y1="248.15" x2="312" y2="248.15" stroke="#333" stroke-width="0.35" />
<text transform="translate(310.2 232.6) scale(0.1 0.10030)" font-size="42" fill="#404040" text-anchor="end" >45</text>
<line x1="310.5" y1="231.2" x2="312" y2="231.2" stroke="#333" stroke-width="0.35" />
<text transform="translate(310.2 215.65) scale(0.1 0.10030)" font-size="42" fill="#404040" text-anchor="end" >50</text>
<line x1="310.5" y1="214.25" x2="312" y2="214.25" stroke="#333" stroke-width="0.35" />
<text transform="translate(310.2 198.7) scale(0.1 0.10030)" font-size="42" fill="#404040" text-anchor="end" >55</text>
<line x1="310.5" y1="197.3" x2="312" y2="197.3" stroke="#333" stroke-width="0.35" />
<text transform="translate(310.2 181.75) scale(0.1 0.10030)" font-size="42" fill="#404040" text-anchor="end" >60</text>
<line x1="310.5" y1="180.35" x2="312" y2="180.35" stroke="#333" stroke-width="0.35" />
<text transform="translate(303.2 217.6) rotate(-90) scale(0.1 0.10030)" font-size="50" fill="#111" text-anchor="middle" >Alpha-diversity Index: Chao1</text>
<line x1="329.3" y1="211.4" x2="329.3" y2="197.6" stroke="#F8766D" stroke-width="0.75" />
<line x1="329.3" y1="241.5" x2="329.3" y2="258.5" stroke="#F8766D" stroke-width="0.75" />
<line x1="326.9" y1="197.6" x2="331.7" y2="197.6" stroke="#F8766D" stroke-width="0.75" />
<line x1="326.9" y1="258.5" x2="331.7" y2="258.5" stroke="#F8766D" stroke-width="0.75" />
<rect x="324.6" y="211.4" width="9.4" height="30.1" fill="#FFFFFF" stroke="#F8766D" stroke-width="0.75"/>
<line x1="324.6" y1="227.2" x2="334" y2="227.2" stroke="#F8766D" stroke-width="0.75" />
<circle cx="328.1" cy="207.1" r="0.9" fill="#F8766D" />
<circle cx="326.3" cy="219.6" r="0.9" fill="#F8766D" />
<circle cx="332.6" cy="211.4" r="0.9" fill="#F8766D" />
<circle cx="332.6" cy="240.7" r="0.9" fill="#F8766D" />
<circle cx="331.4" cy="248.2" r="0.9" fill="#F8766D" />
<circle cx="331.4" cy="258.5" r="0.9" fill="#F8766D" />
<circle cx="329.3" cy="197.6" r="0.9" fill="#F8766D" />
<circle cx="329.3" cy="227.7" r="1.3" fill="#000" />
<line x1="357.9" y1="213.1" x2="357.9" y2="192.6" stroke="#00BFC4" stroke-width="0.75" />
<line x1="357.9" y1="249.5" x2="357.9" y2="261" stroke="#00BFC4" stroke-width="0.75" />
<line x1="355.5" y1="192.6" x2="360.3" y2="192.6" stroke="#00BFC4" stroke-width="0.75" />
<line x1="355.5" y1="261" x2="360.3" y2="261" stroke="#00BFC4" stroke-width="0.75" />
<rect x="353.15" y="213.1" width="9.5" height="36.4" fill="#FFFFFF" stroke="#00BFC4" stroke-width="0.75"/>
<line x1="353.15" y1="225.7" x2="362.65" y2="225.7" stroke="#00BFC4" stroke-width="0.75" />
<circle cx="356.4" cy="199.6" r="0.9" fill="#00BFC4" />
<circle cx="355.2" cy="218.1" r="0.9" fill="#00BFC4" />
<circle cx="356.4" cy="217.1" r="0.9" fill="#00BFC4" />
<circle cx="359.7" cy="233.9" r="0.9" fill="#00BFC4" />
<circle cx="356.4" cy="249" r="0.9" fill="#00BFC4" />
<circle cx="357.7" cy="254.7" r="0.9" fill="#00BFC4" />
<circle cx="357.7" cy="261" r="0.9" fill="#00BFC4" />
<circle cx="358.2" cy="228.2" r="1.3" fill="#000" />
<text transform="translate(330.8 271.6) rotate(-45) scale(0.1 0.10030)" font-size="43" fill="#404040" text-anchor="end" stroke="#404040" stroke-width="0.9" >Treatment</text>
<text transform="translate(359.2 271.6) rotate(-45) scale(0.1 0.10030)" font-size="43" fill="#404040" text-anchor="end" stroke="#404040" stroke-width="0.9" >Control</text>
<line x1="329.3" y1="268.3" x2="329.3" y2="269.7" stroke="#333" stroke-width="0.35" />
<line x1="357.7" y1="268.3" x2="357.7" y2="269.7" stroke="#333" stroke-width="0.35" />
<text transform="translate(3.3 303.5) scale(0.1 0.11534)" font-size="114" fill="#000" text-anchor="start" font-weight="bold" >F</text>
<line x1="161.5" y1="307.5" x2="289.4" y2="314.9" stroke="#E2E2E2" stroke-width="0.5" />
<line x1="161.5" y1="307.5" x2="111" y2="368" stroke="#E2E2E2" stroke-width="0.5" />
<line x1="161.5" y1="307.5" x2="217.2" y2="377.8" stroke="#E2E2E2" stroke-width="0.5" />
<line x1="289.4" y1="314.9" x2="217.2" y2="377.8" stroke="#E2E2E2" stroke-width="0.5" />
<line x1="289.4" y1="314.9" x2="314.9" y2="405" stroke="#E2E2E2" stroke-width="0.5" />
<line x1="217.2" y1="377.8" x2="314.9" y2="405" stroke="#E2E2E2" stroke-width="0.5" />
<line x1="217.2" y1="377.8" x2="278.8" y2="473.7" stroke="#E2E2E2" stroke-width="0.5" />
<line x1="217.2" y1="377.8" x2="164" y2="473" stroke="#E2E2E2" stroke-width="0.5" />
<line x1="111" y1="368" x2="278.8" y2="473.7" stroke="#E2E2E2" stroke-width="0.5" />
<line x1="111" y1="368" x2="236.5" y2="539.5" stroke="#E2E2E2" stroke-width="0.5" />
<line x1="111" y1="368" x2="164" y2="473" stroke="#E2E2E2" stroke-width="0.5" />
<line x1="164" y1="473" x2="15.9" y2="492.1" stroke="#E2E2E2" stroke-width="0.5" />
<line x1="164" y1="473" x2="278.8" y2="473.7" stroke="#E2E2E2" stroke-width="0.5" />
<line x1="278.8" y1="473.7" x2="314.9" y2="405" stroke="#E2E2E2" stroke-width="0.5" />
<line x1="278.8" y1="473.7" x2="236.5" y2="539.5" stroke="#E2E2E2" stroke-width="0.5" />
<rect x="74.6" y="294.3" width="46.5" height="46.9" fill="#FFFFFF" stroke="#A0A0A0" stroke-width="0.45"/>
<line x1="74.6" y1="305.7" x2="121.1" y2="305.7" stroke="#F0F0F0" stroke-width="0.3" />
<line x1="74.6" y1="321.6" x2="121.1" y2="321.6" stroke="#F0F0F0" stroke-width="0.3" />
<line x1="74.6" y1="337" x2="121.1" y2="337" stroke="#F0F0F0" stroke-width="0.3" />
<line x1="87.35" y1="316" x2="87.35" y2="310.4" stroke="#333" stroke-width="0.35" />
<line x1="79.35" y1="310.4" x2="95.35" y2="310.4" stroke="#333" stroke-width="0.35" />
<rect x="79.4" y="316" width="15.9" height="23.3" fill="#1B9E77" stroke="#333" stroke-width="0.3"/>
<line x1="109.25" y1="298.4" x2="109.25" y2="297" stroke="#333" stroke-width="0.35" />
<line x1="100.9" y1="297" x2="117.6" y2="297" stroke="#333" stroke-width="0.35" />
<rect x="100.9" y="298.4" width="16.7" height="40.9" fill="#FF6500" stroke="#333" stroke-width="0.3"/>
<line x1="100.9" y1="321.8" x2="117.6" y2="321.8" stroke="#333" stroke-width="0.45" />
<circle cx="81" cy="313" r="0.72" fill="#111" />
<circle cx="88" cy="316" r="0.72" fill="#111" />
<circle cx="92" cy="316" r="0.72" fill="#111" />
<circle cx="80" cy="339.2" r="0.72" fill="#111" />
<circle cx="86" cy="339.2" r="0.72" fill="#111" />
<circle cx="94" cy="339.2" r="0.72" fill="#111" />
<circle cx="104" cy="297" r="0.72" fill="#111" />
<circle cx="116" cy="301" r="0.72" fill="#111" />
<circle cx="108" cy="339.2" r="0.72" fill="#111" />
<circle cx="112" cy="339.2" r="0.72" fill="#111" />
<text transform="translate(97.85 292.9) scale(0.1 0.10231)" font-size="30" fill="#222" text-anchor="middle" font-weight="bold"  textLength="222" lengthAdjust="spacingAndGlyphs">Fibrobacteres</text>
<line x1="73.8" y1="305.7" x2="74.6" y2="305.7" stroke="#555" stroke-width="0.25" />
<text transform="translate(73.4 307) scale(0.1 0.13540)" font-size="20" fill="#999" text-anchor="end"  stroke="#999" stroke-width="1.2" >4</text>
<line x1="73.8" y1="321.6" x2="74.6" y2="321.6" stroke="#555" stroke-width="0.25" />
<text transform="translate(73.4 322.9) scale(0.1 0.13540)" font-size="20" fill="#999" text-anchor="end"  stroke="#999" stroke-width="1.2" >2</text>
<line x1="73.8" y1="337" x2="74.6" y2="337" stroke="#555" stroke-width="0.25" />
<text transform="translate(73.4 338.3) scale(0.1 0.13540)" font-size="20" fill="#999" text-anchor="end"  stroke="#999" stroke-width="1.2" >0</text>
<text transform="translate(87.35 344.5) scale(0.1 0.10531)" font-size="26" fill="#8a8a8a" text-anchor="middle"  textLength="122" lengthAdjust="spacingAndGlyphs">Treatment</text>
<text transform="translate(109.25 344.5) scale(0.1 0.10531)" font-size="26" fill="#8a8a8a" text-anchor="middle"  textLength="84" lengthAdjust="spacingAndGlyphs">Control</text>
<text transform="translate(98.55 349.6) scale(0.1 0.10531)" font-size="28" fill="#666" text-anchor="middle"  textLength="165" lengthAdjust="spacingAndGlyphs">SampleType</text>
<text transform="translate(67.3 317.75) rotate(-90) scale(0.1 0.11033)" font-size="26" fill="#8a8a8a" text-anchor="middle" font-weight="bold"  textLength="235" lengthAdjust="spacingAndGlyphs">Log-transformed Counts</text>
<rect x="32.6" y="366.8" width="45.4" height="46.7" fill="#FFFFFF" stroke="#A0A0A0" stroke-width="0.45"/>
<line x1="32.6" y1="369.9" x2="78" y2="369.9" stroke="#F0F0F0" stroke-width="0.3" />
<line x1="32.6" y1="383.5" x2="78" y2="383.5" stroke="#F0F0F0" stroke-width="0.3" />
<line x1="32.6" y1="397" x2="78" y2="397" stroke="#F0F0F0" stroke-width="0.3" />
<line x1="32.6" y1="410.4" x2="78" y2="410.4" stroke="#F0F0F0" stroke-width="0.3" />
<line x1="45.75" y1="383.9" x2="45.75" y2="379.4" stroke="#333" stroke-width="0.35" />
<line x1="37.7" y1="379.4" x2="53.8" y2="379.4" stroke="#333" stroke-width="0.35" />
<rect x="37.7" y="383.9" width="16.1" height="27.9" fill="#1B9E77" stroke="#333" stroke-width="0.3"/>
<line x1="37.7" y1="396.3" x2="53.8" y2="396.3" stroke="#333" stroke-width="0.45" />
<line x1="67.25" y1="380.2" x2="67.25" y2="369.9" stroke="#333" stroke-width="0.35" />
<line x1="59" y1="369.9" x2="75.5" y2="369.9" stroke="#333" stroke-width="0.35" />
<rect x="59" y="380.2" width="16.5" height="31.6" fill="#FF6500" stroke="#333" stroke-width="0.3"/>
<line x1="59" y1="399" x2="75.5" y2="399" stroke="#333" stroke-width="0.45" />
<circle cx="45" cy="379.4" r="0.72" fill="#111" />
<circle cx="50" cy="383.9" r="0.72" fill="#111" />
<circle cx="44.5" cy="387.6" r="0.72" fill="#111" />
<circle cx="46" cy="396.3" r="0.72" fill="#111" />
<circle cx="40" cy="411.6" r="0.72" fill="#111" />
<circle cx="45" cy="411.6" r="0.72" fill="#111" />
<circle cx="51" cy="411.6" r="0.72" fill="#111" />
<circle cx="64" cy="369.9" r="0.72" fill="#111" />
<circle cx="70" cy="369.9" r="0.72" fill="#111" />
<circle cx="64" cy="386" r="0.72" fill="#111" />
<circle cx="69" cy="380.5" r="0.72" fill="#111" />
<circle cx="63" cy="411.6" r="0.72" fill="#111" />
<circle cx="72" cy="411.6" r="0.72" fill="#111" />
<text transform="translate(55.3 365.9) scale(0.1 0.10231)" font-size="30" fill="#222" text-anchor="middle" font-weight="bold"  textLength="203" lengthAdjust="spacingAndGlyphs">Spirochaetes</text>
<line x1="31.8" y1="369.9" x2="32.6" y2="369.9" stroke="#555" stroke-width="0.25" />
<text transform="translate(31.4 371.2) scale(0.1 0.13540)" font-size="20" fill="#999" text-anchor="end"  stroke="#999" stroke-width="1.2" >6</text>
<line x1="31.8" y1="383.5" x2="32.6" y2="383.5" stroke="#555" stroke-width="0.25" />
<text transform="translate(31.4 384.8) scale(0.1 0.13540)" font-size="20" fill="#999" text-anchor="end"  stroke="#999" stroke-width="1.2" >4</text>
<line x1="31.8" y1="397" x2="32.6" y2="397" stroke="#555" stroke-width="0.25" />
<text transform="translate(31.4 398.3) scale(0.1 0.13540)" font-size="20" fill="#999" text-anchor="end"  stroke="#999" stroke-width="1.2" >2</text>
<line x1="31.8" y1="410.4" x2="32.6" y2="410.4" stroke="#555" stroke-width="0.25" />
<text transform="translate(31.4 411.7) scale(0.1 0.13540)" font-size="20" fill="#999" text-anchor="end"  stroke="#999" stroke-width="1.2" >0</text>
<text transform="translate(45.75 417.2) scale(0.1 0.10531)" font-size="26" fill="#8a8a8a" text-anchor="middle"  textLength="122" lengthAdjust="spacingAndGlyphs">Treatment</text>
<text transform="translate(67.25 417.2) scale(0.1 0.10531)" font-size="26" fill="#8a8a8a" text-anchor="middle"  textLength="84" lengthAdjust="spacingAndGlyphs">Control</text>
<text transform="translate(56 421.8) scale(0.1 0.10531)" font-size="28" fill="#666" text-anchor="middle"  textLength="165" lengthAdjust="spacingAndGlyphs">SampleType</text>
<text transform="translate(25.2 390.15) rotate(-90) scale(0.1 0.11033)" font-size="26" fill="#8a8a8a" text-anchor="middle" font-weight="bold"  textLength="235" lengthAdjust="spacingAndGlyphs">Log-transformed Counts</text>
<rect x="84.4" y="418.3" width="44.9" height="47.6" fill="#FFFFFF" stroke="#A0A0A0" stroke-width="0.45"/>
<line x1="84.4" y1="425.5" x2="129.3" y2="425.5" stroke="#F0F0F0" stroke-width="0.3" />
<line x1="84.4" y1="434.8" x2="129.3" y2="434.8" stroke="#F0F0F0" stroke-width="0.3" />
<line x1="84.4" y1="444.1" x2="129.3" y2="444.1" stroke="#F0F0F0" stroke-width="0.3" />
<line x1="84.4" y1="453.1" x2="129.3" y2="453.1" stroke="#F0F0F0" stroke-width="0.3" />
<line x1="84.4" y1="462.4" x2="129.3" y2="462.4" stroke="#F0F0F0" stroke-width="0.3" />
<rect x="89.1" y="438.7" width="15.8" height="3.5" fill="#1B9E77" stroke="#333" stroke-width="0.3"/>
<line x1="89.1" y1="440.5" x2="104.9" y2="440.5" stroke="#333" stroke-width="0.45" />
<line x1="116.75" y1="435.7" x2="116.75" y2="427.8" stroke="#333" stroke-width="0.35" />
<line x1="111.75" y1="427.8" x2="121.75" y2="427.8" stroke="#333" stroke-width="0.35" />
<line x1="116.75" y1="457.3" x2="116.75" y2="463.6" stroke="#333" stroke-width="0.35" />
<line x1="111.75" y1="463.6" x2="121.75" y2="463.6" stroke="#333" stroke-width="0.35" />
<rect x="108.8" y="435.7" width="15.9" height="21.6" fill="#FF6500" stroke="#333" stroke-width="0.3"/>
<line x1="108.8" y1="444.5" x2="124.7" y2="444.5" stroke="#333" stroke-width="0.45" />
<circle cx="97.2" cy="420.8" r="0.72" fill="#111" />
<circle cx="91.9" cy="432.4" r="0.72" fill="#111" />
<circle cx="103" cy="459.7" r="0.72" fill="#111" />
<circle cx="92" cy="440.5" r="0.72" fill="#111" />
<circle cx="96" cy="441" r="0.72" fill="#111" />
<circle cx="100" cy="440.5" r="0.72" fill="#111" />
<circle cx="110.5" cy="427.8" r="0.72" fill="#111" />
<circle cx="109" cy="435" r="0.72" fill="#111" />
<circle cx="113" cy="447.5" r="0.72" fill="#111" />
<circle cx="115" cy="456" r="0.72" fill="#111" />
<circle cx="123" cy="444" r="0.72" fill="#111" />
<circle cx="120" cy="462.5" r="0.72" fill="#111" />
<circle cx="124.5" cy="461" r="0.72" fill="#111" />
<text transform="translate(106.85 417) scale(0.1 0.10231)" font-size="30" fill="#222" text-anchor="middle" font-weight="bold"  textLength="245" lengthAdjust="spacingAndGlyphs">Proteobacteria</text>
<line x1="83.6" y1="425.5" x2="84.4" y2="425.5" stroke="#555" stroke-width="0.25" />
<text transform="translate(83.2 426.8) scale(0.1 0.13540)" font-size="20" fill="#999" text-anchor="end"  stroke="#999" stroke-width="1.2"  textLength="50" lengthAdjust="spacingAndGlyphs">0.020</text>
<line x1="83.6" y1="434.8" x2="84.4" y2="434.8" stroke="#555" stroke-width="0.25" />
<text transform="translate(83.2 436.1) scale(0.1 0.13540)" font-size="20" fill="#999" text-anchor="end"  stroke="#999" stroke-width="1.2"  textLength="50" lengthAdjust="spacingAndGlyphs">0.015</text>
<line x1="83.6" y1="444.1" x2="84.4" y2="444.1" stroke="#555" stroke-width="0.25" />
<text transform="translate(83.2 445.4) scale(0.1 0.13540)" font-size="20" fill="#999" text-anchor="end"  stroke="#999" stroke-width="1.2"  textLength="50" lengthAdjust="spacingAndGlyphs">0.010</text>
<line x1="83.6" y1="453.1" x2="84.4" y2="453.1" stroke="#555" stroke-width="0.25" />
<text transform="translate(83.2 454.4) scale(0.1 0.13540)" font-size="20" fill="#999" text-anchor="end"  stroke="#999" stroke-width="1.2"  textLength="50" lengthAdjust="spacingAndGlyphs">0.005</text>
<line x1="83.6" y1="462.4" x2="84.4" y2="462.4" stroke="#555" stroke-width="0.25" />
<text transform="translate(83.2 463.7) scale(0.1 0.13540)" font-size="20" fill="#999" text-anchor="end"  stroke="#999" stroke-width="1.2"  textLength="50" lengthAdjust="spacingAndGlyphs">0.000</text>
<text transform="translate(97 468.9) scale(0.1 0.10531)" font-size="26" fill="#8a8a8a" text-anchor="middle"  textLength="122" lengthAdjust="spacingAndGlyphs">Treatment</text>
<text transform="translate(116.75 468.9) scale(0.1 0.10531)" font-size="26" fill="#8a8a8a" text-anchor="middle"  textLength="84" lengthAdjust="spacingAndGlyphs">Control</text>
<text transform="translate(107.55 473.5) scale(0.1 0.10531)" font-size="28" fill="#666" text-anchor="middle"  textLength="165" lengthAdjust="spacingAndGlyphs">SampleType</text>
<text transform="translate(73.7 442.1) rotate(-90) scale(0.1 0.11033)" font-size="26" fill="#8a8a8a" text-anchor="middle" font-weight="bold"  textLength="235" lengthAdjust="spacingAndGlyphs">Log-transformed Counts</text>
<rect x="69.4" y="491.8" width="43.8" height="48.5" fill="#FFFFFF" stroke="#A0A0A0" stroke-width="0.45"/>
<line x1="69.4" y1="494.9" x2="113.2" y2="494.9" stroke="#F0F0F0" stroke-width="0.3" />
<line x1="69.4" y1="504.4" x2="113.2" y2="504.4" stroke="#F0F0F0" stroke-width="0.3" />
<line x1="69.4" y1="513.7" x2="113.2" y2="513.7" stroke="#F0F0F0" stroke-width="0.3" />
<line x1="69.4" y1="523" x2="113.2" y2="523" stroke="#F0F0F0" stroke-width="0.3" />
<line x1="69.4" y1="532.7" x2="113.2" y2="532.7" stroke="#F0F0F0" stroke-width="0.3" />
<line x1="80.95" y1="512" x2="80.95" y2="512" stroke="#333" stroke-width="0.35" />
<line x1="74.95" y1="512" x2="86.95" y2="512" stroke="#333" stroke-width="0.35" />
<line x1="80.95" y1="523.4" x2="80.95" y2="537.4" stroke="#333" stroke-width="0.35" />
<line x1="74.95" y1="537.4" x2="86.95" y2="537.4" stroke="#333" stroke-width="0.35" />
<rect x="73.5" y="512" width="14.9" height="11.4" fill="#1B9E77" stroke="#333" stroke-width="0.3"/>
<line x1="73.5" y1="518.2" x2="88.4" y2="518.2" stroke="#333" stroke-width="0.45" />
<line x1="100.5" y1="512.4" x2="100.5" y2="499.2" stroke="#333" stroke-width="0.35" />
<line x1="95.5" y1="499.2" x2="105.5" y2="499.2" stroke="#333" stroke-width="0.35" />
<line x1="100.5" y1="523.8" x2="100.5" y2="530.2" stroke="#333" stroke-width="0.35" />
<line x1="95.5" y1="530.2" x2="105.5" y2="530.2" stroke="#333" stroke-width="0.35" />
<rect x="93" y="512.4" width="15" height="11.4" fill="#FF6500" stroke="#333" stroke-width="0.3"/>
<line x1="93" y1="519.3" x2="108" y2="519.3" stroke="#333" stroke-width="0.45" />
<circle cx="81.6" cy="494.5" r="0.72" fill="#111" />
<circle cx="95.2" cy="503.3" r="0.72" fill="#111" />
<circle cx="75" cy="514" r="0.72" fill="#111" />
<circle cx="84" cy="512" r="0.72" fill="#111" />
<circle cx="79" cy="517" r="0.72" fill="#111" />
<circle cx="82" cy="520" r="0.72" fill="#111" />
<circle cx="80" cy="523" r="0.72" fill="#111" />
<circle cx="86" cy="526" r="0.72" fill="#111" />
<circle cx="73.5" cy="537.4" r="0.72" fill="#111" />
<circle cx="100" cy="515" r="0.72" fill="#111" />
<circle cx="99.5" cy="516.5" r="0.72" fill="#111" />
<circle cx="106" cy="522" r="0.72" fill="#111" />
<circle cx="107" cy="523" r="0.72" fill="#111" />
<circle cx="104" cy="530.2" r="0.72" fill="#111" />
<text transform="translate(91.3 490.7) scale(0.1 0.10231)" font-size="30" fill="#222" text-anchor="middle" font-weight="bold"  textLength="164" lengthAdjust="spacingAndGlyphs">Firmicutes</text>
<line x1="68.6" y1="494.9" x2="69.4" y2="494.9" stroke="#555" stroke-width="0.25" />
<text transform="translate(68.2 496.2) scale(0.1 0.13540)" font-size="20" fill="#999" text-anchor="end"  stroke="#999" stroke-width="1.2"  textLength="65" lengthAdjust="spacingAndGlyphs">0.0100</text>
<line x1="68.6" y1="504.4" x2="69.4" y2="504.4" stroke="#555" stroke-width="0.25" />
<text transform="translate(68.2 505.7) scale(0.1 0.13540)" font-size="20" fill="#999" text-anchor="end"  stroke="#999" stroke-width="1.2"  textLength="65" lengthAdjust="spacingAndGlyphs">0.0075</text>
<line x1="68.6" y1="513.7" x2="69.4" y2="513.7" stroke="#555" stroke-width="0.25" />
<text transform="translate(68.2 515) scale(0.1 0.13540)" font-size="20" fill="#999" text-anchor="end"  stroke="#999" stroke-width="1.2"  textLength="65" lengthAdjust="spacingAndGlyphs">0.0050</text>
<line x1="68.6" y1="523" x2="69.4" y2="523" stroke="#555" stroke-width="0.25" />
<text transform="translate(68.2 524.3) scale(0.1 0.13540)" font-size="20" fill="#999" text-anchor="end"  stroke="#999" stroke-width="1.2"  textLength="65" lengthAdjust="spacingAndGlyphs">0.0025</text>
<line x1="68.6" y1="532.7" x2="69.4" y2="532.7" stroke="#555" stroke-width="0.25" />
<text transform="translate(68.2 534) scale(0.1 0.13540)" font-size="20" fill="#999" text-anchor="end"  stroke="#999" stroke-width="1.2"  textLength="65" lengthAdjust="spacingAndGlyphs">0.0000</text>
<text transform="translate(80.95 542.7) scale(0.1 0.10531)" font-size="26" fill="#8a8a8a" text-anchor="middle"  textLength="122" lengthAdjust="spacingAndGlyphs">Treatment</text>
<text transform="translate(100.5 542.7) scale(0.1 0.10531)" font-size="26" fill="#8a8a8a" text-anchor="middle"  textLength="84" lengthAdjust="spacingAndGlyphs">Control</text>
<text transform="translate(92 547.5) scale(0.1 0.10531)" font-size="28" fill="#666" text-anchor="middle"  textLength="165" lengthAdjust="spacingAndGlyphs">SampleType</text>
<text transform="translate(57.3 516.05) rotate(-90) scale(0.1 0.11033)" font-size="26" fill="#8a8a8a" text-anchor="middle" font-weight="bold"  textLength="235" lengthAdjust="spacingAndGlyphs">Log-transformed Counts</text>
<rect x="148.6" y="491.4" width="47.1" height="47.1" fill="#FFFFFF" stroke="#A0A0A0" stroke-width="0.45"/>
<line x1="148.6" y1="494.9" x2="195.7" y2="494.9" stroke="#F0F0F0" stroke-width="0.3" />
<line x1="148.6" y1="502.7" x2="195.7" y2="502.7" stroke="#F0F0F0" stroke-width="0.3" />
<line x1="148.6" y1="510.6" x2="195.7" y2="510.6" stroke="#F0F0F0" stroke-width="0.3" />
<line x1="148.6" y1="518.4" x2="195.7" y2="518.4" stroke="#F0F0F0" stroke-width="0.3" />
<line x1="148.6" y1="526.3" x2="195.7" y2="526.3" stroke="#F0F0F0" stroke-width="0.3" />
<line x1="148.6" y1="534.1" x2="195.7" y2="534.1" stroke="#F0F0F0" stroke-width="0.3" />
<line x1="160.5" y1="506.9" x2="160.5" y2="497.1" stroke="#333" stroke-width="0.35" />
<line x1="151.7" y1="497.1" x2="169.3" y2="497.1" stroke="#333" stroke-width="0.35" />
<rect x="151.7" y="506.9" width="17.6" height="29.5" fill="#1B9E77" stroke="#333" stroke-width="0.3"/>
<line x1="182.7" y1="509.3" x2="182.7" y2="493.4" stroke="#333" stroke-width="0.35" />
<line x1="174.4" y1="493.4" x2="191" y2="493.4" stroke="#333" stroke-width="0.35" />
<rect x="174.4" y="509.3" width="16.6" height="26.9" fill="#FF6500" stroke="#333" stroke-width="0.3"/>
<circle cx="153.5" cy="498" r="0.72" fill="#111" />
<circle cx="166.5" cy="500" r="0.72" fill="#111" />
<circle cx="152" cy="506.9" r="0.72" fill="#111" />
<circle cx="168.5" cy="518.5" r="0.72" fill="#111" />
<circle cx="156" cy="536" r="0.72" fill="#111" />
<circle cx="162" cy="536" r="0.72" fill="#111" />
<circle cx="167" cy="536" r="0.72" fill="#111" />
<circle cx="177.5" cy="493.6" r="0.72" fill="#111" />
<circle cx="176" cy="507" r="0.72" fill="#111" />
<circle cx="185.5" cy="510" r="0.72" fill="#111" />
<circle cx="175" cy="536" r="0.72" fill="#111" />
<circle cx="181" cy="536" r="0.72" fill="#111" />
<circle cx="187" cy="536" r="0.72" fill="#111" />
<text transform="translate(172.15 490) scale(0.1 0.10231)" font-size="30" fill="#222" text-anchor="middle" font-weight="bold"  textLength="279" lengthAdjust="spacingAndGlyphs">Saccharibacteria</text>
<line x1="147.8" y1="494.9" x2="148.6" y2="494.9" stroke="#555" stroke-width="0.25" />
<text transform="translate(147.4 496.2) scale(0.1 0.13540)" font-size="20" fill="#999" text-anchor="end"  stroke="#999" stroke-width="1.2" >5</text>
<line x1="147.8" y1="502.7" x2="148.6" y2="502.7" stroke="#555" stroke-width="0.25" />
<text transform="translate(147.4 504) scale(0.1 0.13540)" font-size="20" fill="#999" text-anchor="end"  stroke="#999" stroke-width="1.2" >4</text>
<line x1="147.8" y1="510.6" x2="148.6" y2="510.6" stroke="#555" stroke-width="0.25" />
<text transform="translate(147.4 511.9) scale(0.1 0.13540)" font-size="20" fill="#999" text-anchor="end"  stroke="#999" stroke-width="1.2" >3</text>
<line x1="147.8" y1="518.4" x2="148.6" y2="518.4" stroke="#555" stroke-width="0.25" />
<text transform="translate(147.4 519.7) scale(0.1 0.13540)" font-size="20" fill="#999" text-anchor="end"  stroke="#999" stroke-width="1.2" >2</text>
<line x1="147.8" y1="526.3" x2="148.6" y2="526.3" stroke="#555" stroke-width="0.25" />
<text transform="translate(147.4 527.6) scale(0.1 0.13540)" font-size="20" fill="#999" text-anchor="end"  stroke="#999" stroke-width="1.2" >1</text>
<line x1="147.8" y1="534.1" x2="148.6" y2="534.1" stroke="#555" stroke-width="0.25" />
<text transform="translate(147.4 535.4) scale(0.1 0.13540)" font-size="20" fill="#999" text-anchor="end"  stroke="#999" stroke-width="1.2" >0</text>
<text transform="translate(160.5 541.5) scale(0.1 0.10531)" font-size="26" fill="#8a8a8a" text-anchor="middle"  textLength="122" lengthAdjust="spacingAndGlyphs">Treatment</text>
<text transform="translate(182.7 541.5) scale(0.1 0.10531)" font-size="26" fill="#8a8a8a" text-anchor="middle"  textLength="84" lengthAdjust="spacingAndGlyphs">Control</text>
<text transform="translate(172.85 546.7) scale(0.1 0.10531)" font-size="28" fill="#666" text-anchor="middle"  textLength="165" lengthAdjust="spacingAndGlyphs">SampleType</text>
<text transform="translate(139.6 514.95) rotate(-90) scale(0.1 0.11033)" font-size="26" fill="#8a8a8a" text-anchor="middle" font-weight="bold"  textLength="235" lengthAdjust="spacingAndGlyphs">Log-transformed Counts</text>
<rect x="330.5" y="288" width="46.8" height="46.7" fill="#FFFFFF" stroke="#A0A0A0" stroke-width="0.45"/>
<line x1="330.5" y1="299.9" x2="377.3" y2="299.9" stroke="#F0F0F0" stroke-width="0.3" />
<line x1="330.5" y1="314.8" x2="377.3" y2="314.8" stroke="#F0F0F0" stroke-width="0.3" />
<line x1="330.5" y1="329.7" x2="377.3" y2="329.7" stroke="#F0F0F0" stroke-width="0.3" />
<line x1="334.9" y1="332.1" x2="350.8" y2="332.1" stroke="#333" stroke-width="0.35" />
<line x1="365.05" y1="305.3" x2="365.05" y2="289.6" stroke="#333" stroke-width="0.35" />
<line x1="358.25" y1="289.6" x2="371.85" y2="289.6" stroke="#333" stroke-width="0.35" />
<rect x="356.8" y="305.3" width="16.5" height="26.8" fill="#FF6500" stroke="#333" stroke-width="0.3"/>
<line x1="356.8" y1="308.5" x2="373.3" y2="308.5" stroke="#333" stroke-width="0.45" />
<circle cx="340.2" cy="301.3" r="0.72" fill="#111" />
<circle cx="344.8" cy="309.8" r="0.72" fill="#111" />
<circle cx="336" cy="332" r="0.72" fill="#111" />
<circle cx="340" cy="332" r="0.72" fill="#111" />
<circle cx="344" cy="332" r="0.72" fill="#111" />
<circle cx="348" cy="332" r="0.72" fill="#111" />
<circle cx="360" cy="289.6" r="0.72" fill="#111" />
<circle cx="371" cy="300" r="0.72" fill="#111" />
<circle cx="358" cy="306.5" r="0.72" fill="#111" />
<circle cx="361" cy="306.5" r="0.72" fill="#111" />
<circle cx="371" cy="310" r="0.72" fill="#111" />
<circle cx="358" cy="332" r="0.72" fill="#111" />
<circle cx="371" cy="332" r="0.72" fill="#111" />
<text transform="translate(353.9 286.3) scale(0.1 0.10231)" font-size="30" fill="#222" text-anchor="middle" font-weight="bold"  textLength="174" lengthAdjust="spacingAndGlyphs">Tenericutes</text>
<line x1="329.7" y1="299.9" x2="330.5" y2="299.9" stroke="#555" stroke-width="0.25" />
<text transform="translate(329.3 301.2) scale(0.1 0.13540)" font-size="20" fill="#999" text-anchor="end"  stroke="#999" stroke-width="1.2" >2</text>
<line x1="329.7" y1="314.8" x2="330.5" y2="314.8" stroke="#555" stroke-width="0.25" />
<text transform="translate(329.3 316.1) scale(0.1 0.13540)" font-size="20" fill="#999" text-anchor="end"  stroke="#999" stroke-width="1.2" >1</text>
<line x1="329.7" y1="329.7" x2="330.5" y2="329.7" stroke="#555" stroke-width="0.25" />
<text transform="translate(329.3 331) scale(0.1 0.13540)" font-size="20" fill="#999" text-anchor="end"  stroke="#999" stroke-width="1.2" >0</text>
<text transform="translate(342.8 337.8) scale(0.1 0.10531)" font-size="26" fill="#8a8a8a" text-anchor="middle"  textLength="122" lengthAdjust="spacingAndGlyphs">Treatment</text>
<text transform="translate(365.05 337.8) scale(0.1 0.10531)" font-size="26" fill="#8a8a8a" text-anchor="middle"  textLength="84" lengthAdjust="spacingAndGlyphs">Control</text>
<text transform="translate(354.6 342.3) scale(0.1 0.10531)" font-size="28" fill="#666" text-anchor="middle"  textLength="165" lengthAdjust="spacingAndGlyphs">SampleType</text>
<text transform="translate(323.8 311.35) rotate(-90) scale(0.1 0.11033)" font-size="26" fill="#8a8a8a" text-anchor="middle" font-weight="bold"  textLength="235" lengthAdjust="spacingAndGlyphs">Log-transformed Counts</text>
<rect x="336.6" y="346.7" width="46.6" height="48.4" fill="#FFFFFF" stroke="#A0A0A0" stroke-width="0.45"/>
<line x1="336.6" y1="354.6" x2="383.2" y2="354.6" stroke="#F0F0F0" stroke-width="0.3" />
<line x1="336.6" y1="368.6" x2="383.2" y2="368.6" stroke="#F0F0F0" stroke-width="0.3" />
<line x1="336.6" y1="382.3" x2="383.2" y2="382.3" stroke="#F0F0F0" stroke-width="0.3" />
<line x1="349.45" y1="377.5" x2="349.45" y2="371.5" stroke="#333" stroke-width="0.35" />
<line x1="344.45" y1="371.5" x2="354.45" y2="371.5" stroke="#333" stroke-width="0.35" />
<line x1="349.45" y1="385" x2="349.45" y2="392.2" stroke="#333" stroke-width="0.35" />
<line x1="344.45" y1="392.2" x2="354.45" y2="392.2" stroke="#333" stroke-width="0.35" />
<rect x="341.6" y="377.5" width="15.7" height="7.5" fill="#1B9E77" stroke="#333" stroke-width="0.3"/>
<line x1="341.6" y1="378.7" x2="357.3" y2="378.7" stroke="#333" stroke-width="0.45" />
<line x1="370.8" y1="365.2" x2="370.8" y2="350.1" stroke="#333" stroke-width="0.35" />
<line x1="365.3" y1="350.1" x2="376.3" y2="350.1" stroke="#333" stroke-width="0.35" />
<line x1="370.8" y1="377.8" x2="370.8" y2="387.7" stroke="#333" stroke-width="0.35" />
<line x1="365.3" y1="387.7" x2="376.3" y2="387.7" stroke="#333" stroke-width="0.35" />
<rect x="362.9" y="365.2" width="15.8" height="12.6" fill="#FF6500" stroke="#333" stroke-width="0.3"/>
<line x1="362.9" y1="375.5" x2="378.7" y2="375.5" stroke="#333" stroke-width="0.45" />
<circle cx="348" cy="371.5" r="0.72" fill="#111" />
<circle cx="353" cy="375" r="0.72" fill="#111" />
<circle cx="346" cy="382" r="0.72" fill="#111" />
<circle cx="352" cy="378.5" r="0.72" fill="#111" />
<circle cx="348" cy="385" r="0.72" fill="#111" />
<circle cx="344" cy="392" r="0.72" fill="#111" />
<circle cx="368" cy="350.5" r="0.72" fill="#111" />
<circle cx="370" cy="362" r="0.72" fill="#111" />
<circle cx="367" cy="369" r="0.72" fill="#111" />
<circle cx="368" cy="374" r="0.72" fill="#111" />
<circle cx="373" cy="375" r="0.72" fill="#111" />
<circle cx="376" cy="381" r="0.72" fill="#111" />
<circle cx="364.5" cy="387.7" r="0.72" fill="#111" />
<text transform="translate(359.9 346.1) scale(0.1 0.10231)" font-size="30" fill="#222" text-anchor="middle" font-weight="bold"  textLength="229" lengthAdjust="spacingAndGlyphs">Bacteroidetes</text>
<line x1="335.8" y1="354.6" x2="336.6" y2="354.6" stroke="#555" stroke-width="0.25" />
<text transform="translate(335.4 355.9) scale(0.1 0.13540)" font-size="20" fill="#999" text-anchor="end"  stroke="#999" stroke-width="1.2"  textLength="38" lengthAdjust="spacingAndGlyphs">12.5</text>
<line x1="335.8" y1="368.6" x2="336.6" y2="368.6" stroke="#555" stroke-width="0.25" />
<text transform="translate(335.4 369.9) scale(0.1 0.13540)" font-size="20" fill="#999" text-anchor="end"  stroke="#999" stroke-width="1.2"  textLength="38" lengthAdjust="spacingAndGlyphs">10.0</text>
<line x1="335.8" y1="382.3" x2="336.6" y2="382.3" stroke="#555" stroke-width="0.25" />
<text transform="translate(335.4 383.6) scale(0.1 0.13540)" font-size="20" fill="#999" text-anchor="end"  stroke="#999" stroke-width="1.2"  textLength="38" lengthAdjust="spacingAndGlyphs">7.5</text>
<text transform="translate(349.45 398.2) scale(0.1 0.10531)" font-size="26" fill="#8a8a8a" text-anchor="middle"  textLength="122" lengthAdjust="spacingAndGlyphs">Treatment</text>
<text transform="translate(370.8 398.2) scale(0.1 0.10531)" font-size="26" fill="#8a8a8a" text-anchor="middle"  textLength="84" lengthAdjust="spacingAndGlyphs">Control</text>
<text transform="translate(360.6 402.3) scale(0.1 0.10531)" font-size="28" fill="#666" text-anchor="middle"  textLength="165" lengthAdjust="spacingAndGlyphs">SampleType</text>
<text transform="translate(328.3 370.9) rotate(-90) scale(0.1 0.11033)" font-size="26" fill="#8a8a8a" text-anchor="middle" font-weight="bold"  textLength="235" lengthAdjust="spacingAndGlyphs">Log-transformed Counts</text>
<rect x="322.5" y="415.1" width="49.4" height="47.2" fill="#FFFFFF" stroke="#A0A0A0" stroke-width="0.45"/>
<line x1="322.5" y1="428.2" x2="371.9" y2="428.2" stroke="#F0F0F0" stroke-width="0.3" />
<line x1="322.5" y1="443.2" x2="371.9" y2="443.2" stroke="#F0F0F0" stroke-width="0.3" />
<line x1="322.5" y1="458.3" x2="371.9" y2="458.3" stroke="#F0F0F0" stroke-width="0.3" />
<line x1="335.95" y1="430.2" x2="335.95" y2="434.9" stroke="#333" stroke-width="0.35" />
<line x1="329.95" y1="434.9" x2="341.95" y2="434.9" stroke="#333" stroke-width="0.35" />
<rect x="328.1" y="421.4" width="15.7" height="8.8" fill="#1B9E77" stroke="#333" stroke-width="0.3"/>
<line x1="328.1" y1="423" x2="343.8" y2="423" stroke="#333" stroke-width="0.45" />
<line x1="357.55" y1="420.7" x2="357.55" y2="417.4" stroke="#333" stroke-width="0.35" />
<line x1="351.55" y1="417.4" x2="363.55" y2="417.4" stroke="#333" stroke-width="0.35" />
<line x1="357.55" y1="429.7" x2="357.55" y2="433.1" stroke="#333" stroke-width="0.35" />
<line x1="351.55" y1="433.1" x2="363.55" y2="433.1" stroke="#333" stroke-width="0.35" />
<rect x="349.5" y="420.7" width="16.1" height="9" fill="#FF6500" stroke="#333" stroke-width="0.3"/>
<line x1="349.5" y1="421.9" x2="365.6" y2="421.9" stroke="#333" stroke-width="0.45" />
<circle cx="351.3" cy="460.1" r="0.72" fill="#111" />
<circle cx="331" cy="421.5" r="0.72" fill="#111" />
<circle cx="336" cy="422" r="0.72" fill="#111" />
<circle cx="340" cy="422.5" r="0.72" fill="#111" />
<circle cx="333" cy="426" r="0.72" fill="#111" />
<circle cx="335" cy="434" r="0.72" fill="#111" />
<circle cx="343" cy="434.5" r="0.72" fill="#111" />
<circle cx="354" cy="418" r="0.72" fill="#111" />
<circle cx="359" cy="417.5" r="0.72" fill="#111" />
<circle cx="364" cy="420" r="0.72" fill="#111" />
<circle cx="351" cy="432" r="0.72" fill="#111" />
<circle cx="362" cy="421" r="0.72" fill="#111" />
<text transform="translate(347.2 413.8) scale(0.1 0.10231)" font-size="30" fill="#222" text-anchor="middle" font-weight="bold"  textLength="243" lengthAdjust="spacingAndGlyphs">Actinobacteria</text>
<line x1="321.7" y1="428.2" x2="322.5" y2="428.2" stroke="#555" stroke-width="0.25" />
<text transform="translate(321.3 429.5) scale(0.1 0.13540)" font-size="20" fill="#999" text-anchor="end"  stroke="#999" stroke-width="1.2" >9</text>
<line x1="321.7" y1="443.2" x2="322.5" y2="443.2" stroke="#555" stroke-width="0.25" />
<text transform="translate(321.3 444.5) scale(0.1 0.13540)" font-size="20" fill="#999" text-anchor="end"  stroke="#999" stroke-width="1.2" >6</text>
<line x1="321.7" y1="458.3" x2="322.5" y2="458.3" stroke="#555" stroke-width="0.25" />
<text transform="translate(321.3 459.6) scale(0.1 0.13540)" font-size="20" fill="#999" text-anchor="end"  stroke="#999" stroke-width="1.2" >3</text>
<text transform="translate(335.95 464.9) scale(0.1 0.10531)" font-size="26" fill="#8a8a8a" text-anchor="middle"  textLength="122" lengthAdjust="spacingAndGlyphs">Treatment</text>
<text transform="translate(357.55 464.9) scale(0.1 0.10531)" font-size="26" fill="#8a8a8a" text-anchor="middle"  textLength="84" lengthAdjust="spacingAndGlyphs">Control</text>
<text transform="translate(347.9 469.6) scale(0.1 0.10531)" font-size="28" fill="#666" text-anchor="middle"  textLength="165" lengthAdjust="spacingAndGlyphs">SampleType</text>
<text transform="translate(314.8 438.7) rotate(-90) scale(0.1 0.11033)" font-size="26" fill="#8a8a8a" text-anchor="middle" font-weight="bold"  textLength="235" lengthAdjust="spacingAndGlyphs">Log-transformed Counts</text>
<rect x="305" y="484.5" width="47.2" height="48.7" fill="#FFFFFF" stroke="#A0A0A0" stroke-width="0.45"/>
<line x1="305" y1="489.6" x2="352.2" y2="489.6" stroke="#F0F0F0" stroke-width="0.3" />
<line x1="305" y1="498.8" x2="352.2" y2="498.8" stroke="#F0F0F0" stroke-width="0.3" />
<line x1="305" y1="508.1" x2="352.2" y2="508.1" stroke="#F0F0F0" stroke-width="0.3" />
<line x1="305" y1="518.4" x2="352.2" y2="518.4" stroke="#F0F0F0" stroke-width="0.3" />
<line x1="305" y1="528.9" x2="352.2" y2="528.9" stroke="#F0F0F0" stroke-width="0.3" />
<line x1="317.2" y1="508.1" x2="317.2" y2="498.1" stroke="#333" stroke-width="0.35" />
<line x1="309.2" y1="498.1" x2="325.2" y2="498.1" stroke="#333" stroke-width="0.35" />
<rect x="308.8" y="508.1" width="16.8" height="22.6" fill="#1B9E77" stroke="#333" stroke-width="0.3"/>
<line x1="339.75" y1="503.8" x2="339.75" y2="490.1" stroke="#333" stroke-width="0.35" />
<line x1="331.75" y1="490.1" x2="347.75" y2="490.1" stroke="#333" stroke-width="0.35" />
<rect x="331.4" y="503.8" width="16.7" height="26.9" fill="#FF6500" stroke="#333" stroke-width="0.3"/>
<circle cx="308.5" cy="508" r="0.72" fill="#111" />
<circle cx="316" cy="506" r="0.72" fill="#111" />
<circle cx="323" cy="495.5" r="0.72" fill="#111" />
<circle cx="309" cy="530.5" r="0.72" fill="#111" />
<circle cx="319" cy="530.5" r="0.72" fill="#111" />
<circle cx="325" cy="530.5" r="0.72" fill="#111" />
<circle cx="331.5" cy="530.5" r="0.72" fill="#111" />
<circle cx="336" cy="492" r="0.72" fill="#111" />
<circle cx="346" cy="492" r="0.72" fill="#111" />
<circle cx="347" cy="510" r="0.72" fill="#111" />
<circle cx="340" cy="530.5" r="0.72" fill="#111" />
<text transform="translate(328.6 484.1) scale(0.1 0.10231)" font-size="30" fill="#222" text-anchor="middle" font-weight="bold"  textLength="437" lengthAdjust="spacingAndGlyphs">SR1_(Absconditabacteria)</text>
<line x1="304.2" y1="489.6" x2="305" y2="489.6" stroke="#555" stroke-width="0.25" />
<text transform="translate(303.8 490.9) scale(0.1 0.13540)" font-size="20" fill="#999" text-anchor="end"  stroke="#999" stroke-width="1.2" >4</text>
<line x1="304.2" y1="498.8" x2="305" y2="498.8" stroke="#555" stroke-width="0.25" />
<text transform="translate(303.8 500.1) scale(0.1 0.13540)" font-size="20" fill="#999" text-anchor="end"  stroke="#999" stroke-width="1.2" >3</text>
<line x1="304.2" y1="508.1" x2="305" y2="508.1" stroke="#555" stroke-width="0.25" />
<text transform="translate(303.8 509.4) scale(0.1 0.13540)" font-size="20" fill="#999" text-anchor="end"  stroke="#999" stroke-width="1.2" >2</text>
<line x1="304.2" y1="518.4" x2="305" y2="518.4" stroke="#555" stroke-width="0.25" />
<text transform="translate(303.8 519.7) scale(0.1 0.13540)" font-size="20" fill="#999" text-anchor="end"  stroke="#999" stroke-width="1.2" >1</text>
<line x1="304.2" y1="528.9" x2="305" y2="528.9" stroke="#555" stroke-width="0.25" />
<text transform="translate(303.8 530.2) scale(0.1 0.13540)" font-size="20" fill="#999" text-anchor="end"  stroke="#999" stroke-width="1.2" >0</text>
<text transform="translate(317.2 536.7) scale(0.1 0.10531)" font-size="26" fill="#8a8a8a" text-anchor="middle"  textLength="122" lengthAdjust="spacingAndGlyphs">Treatment</text>
<text transform="translate(339.75 536.7) scale(0.1 0.10531)" font-size="26" fill="#8a8a8a" text-anchor="middle"  textLength="84" lengthAdjust="spacingAndGlyphs">Control</text>
<text transform="translate(329.3 541.2) scale(0.1 0.10531)" font-size="28" fill="#666" text-anchor="middle"  textLength="165" lengthAdjust="spacingAndGlyphs">SampleType</text>
<text transform="translate(298.4 508.85) rotate(-90) scale(0.1 0.11033)" font-size="26" fill="#8a8a8a" text-anchor="middle" font-weight="bold"  textLength="235" lengthAdjust="spacingAndGlyphs">Log-transformed Counts</text>
<ellipse cx="161.5" cy="307.5" rx="3.75" ry="3.4" fill="#1B9E77"/>
<g transform="translate(161.5 307.5) scale(1 0.91)">
<path d="M0 0 L3.4 1.58 A3.75 3.75 0 0 1 1.58 3.4 Z" fill="#FF6500"/>
</g>
<text transform="translate(166 309.1) scale(0.1 0.11234)" font-size="43" fill="#1a1a1a" text-anchor="start" >Fibrobacteres</text>
<ellipse cx="289.4" cy="314.9" rx="4" ry="3.5" fill="#1B9E77"/>
<g transform="translate(289.4 314.9) scale(1 0.88)">
<path d="M0 0 L3.76 1.37 A4 4 0 0 1 1.04 3.86 Z" fill="#FF6500"/>
</g>
<text transform="translate(293.4 316.5) scale(0.1 0.11234)" font-size="43" fill="#1a1a1a" text-anchor="start" >Tenericutes</text>
<ellipse cx="111" cy="368" rx="4.25" ry="3.55" fill="#1B9E77"/>
<g transform="translate(111 368) scale(1 0.84)">
<path d="M0 0 L4.25 0 A4.25 4.25 0 0 1 -0.37 4.23 Z" fill="#FF6500"/>
</g>
<text transform="translate(115.2 369.6) scale(0.1 0.11234)" font-size="43" fill="#1a1a1a" text-anchor="start" >Spirochaetes</text>
<ellipse cx="217.5" cy="378.1" rx="6.7" ry="5.6" fill="#1B9E77"/>
<g transform="translate(217.5 378.1) scale(1 0.84)">
<path d="M0 0 L6.12 -2.73 A6.7 6.7 0 1 1 -6.44 1.85 Z" fill="#FF6500"/>
</g>
<text transform="translate(221.9 379.7) scale(0.1 0.11234)" font-size="43" fill="#1a1a1a" text-anchor="start" >Bacteroidetes</text>
<ellipse cx="314.9" cy="405" rx="4.5" ry="4.2" fill="#1B9E77"/>
<g transform="translate(314.9 405) scale(1 0.93)">
<path d="M0 0 L4.46 -0.63 A4.5 4.5 0 1 1 -4.48 0.39 Z" fill="#FF6500"/>
</g>
<text transform="translate(319 406.6) scale(0.1 0.11234)" font-size="43" fill="#1a1a1a" text-anchor="start" >Actinobacteria</text>
<ellipse cx="164" cy="473" rx="10" ry="8.6" fill="#1B9E77"/>
<g transform="translate(164 473) scale(1 0.86)">
<path d="M0 0 L10 0 A10 10 0 0 1 -10 0 Z" fill="#FF6500"/>
</g>
<text transform="translate(170.1 474.6) scale(0.1 0.11234)" font-size="43" fill="#1a1a1a" text-anchor="start" >Proteobacteria</text>
<ellipse cx="278.8" cy="473.7" rx="3.45" ry="3.35" fill="#1B9E77"/>
<g transform="translate(278.8 473.7) scale(1 0.97)">
<path d="M0 0 L3.24 1.18 A3.45 3.45 0 0 1 0 3.45 Z" fill="#FF6500"/>
</g>
<text transform="translate(282.3 475.3) scale(0.1 0.11234)" font-size="43" fill="#1a1a1a" text-anchor="start" >SR1_(Absconditabacteria)</text>
<ellipse cx="236.5" cy="539.5" rx="4" ry="3.5" fill="#1B9E77"/>
<g transform="translate(236.5 539.5) scale(1 0.88)">
<path d="M0 0 L4 0 A4 4 0 0 1 -4 0 Z" fill="#FF6500"/>
</g>
<text transform="translate(240.3 541.1) scale(0.1 0.11234)" font-size="43" fill="#1a1a1a" text-anchor="start" >Saccharibacteria</text>
<ellipse cx="15.9" cy="492.1" rx="10.8" ry="9.2" fill="#1B9E77"/>
<g transform="translate(15.9 492.1) scale(1 0.85)">
<path d="M0 0 L10.8 0 A10.8 10.8 0 0 1 -10.8 0 Z" fill="#FF6500"/>
</g>
<text transform="translate(23.1 493.7) scale(0.1 0.11234)" font-size="43" fill="#1a1a1a" text-anchor="start" >Firmicutes</text>
<rect x="3.6" y="433.6" width="51.4" height="35.6" fill="#FFFFFF" stroke="#222" stroke-width="1.0" rx="1.2"/>
<text transform="translate(7 442.6) scale(0.1 0.10030)" font-size="86" fill="#111" text-anchor="start"  textLength="437" lengthAdjust="spacingAndGlyphs">SampleType</text>
<line x1="13.1" y1="447.2" x2="13.1" y2="455.6" stroke="#111" stroke-width="0.6" />
<rect x="8.4" y="448.5" width="9.4" height="5.8" fill="#1B9E77" stroke="#111" stroke-width="0.6"/>
<line x1="8.4" y1="451.4" x2="17.8" y2="451.4" stroke="#111" stroke-width="0.8" />
<path d="M13.1 449.8 L14.7 451.4 L13.1 453 L11.5 451.4 Z" fill="#111"/>
<text transform="translate(22.8 453.9) scale(0.1 0.10030)" font-size="70" fill="#111" text-anchor="start"  textLength="279" lengthAdjust="spacingAndGlyphs">Treatment</text>
<line x1="13.1" y1="458.4" x2="13.1" y2="466.8" stroke="#111" stroke-width="0.6" />
<rect x="8.4" y="459.7" width="9.4" height="5.8" fill="#FF6500" stroke="#111" stroke-width="0.6"/>
<line x1="8.4" y1="462.6" x2="17.8" y2="462.6" stroke="#111" stroke-width="0.8" />
<path d="M13.1 461 L14.7 462.6 L13.1 464.2 L11.5 462.6 Z" fill="#111"/>
<text transform="translate(22.8 465.1) scale(0.1 0.10030)" font-size="70" fill="#111" text-anchor="start"  textLength="202" lengthAdjust="spacingAndGlyphs">Control</text></svg>
</body></html>
